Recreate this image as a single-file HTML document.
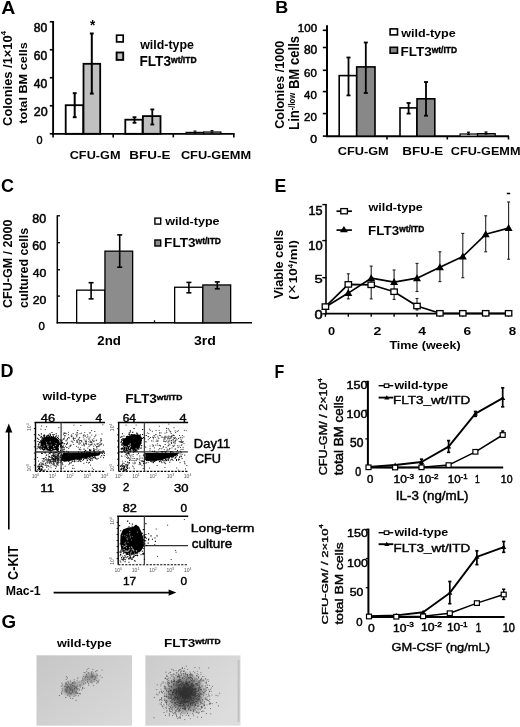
<!DOCTYPE html>
<html><head><meta charset="utf-8"><style>
html,body{margin:0;padding:0;background:#fff;width:520px;height:727px;overflow:hidden;}
svg{display:block;filter:grayscale(1) blur(0.35px);}
text{font-family:"Liberation Sans",sans-serif;}
</style></head><body>
<svg width="520" height="727" viewBox="0 0 520 727">
<line x1="53.1" y1="21" x2="53.1" y2="134.6" stroke="#000" stroke-width="1.9"/>
<line x1="51.8" y1="133.8" x2="234.6" y2="133.8" stroke="#000" stroke-width="1.8"/>
<line x1="49.8" y1="21.75" x2="53.5" y2="21.75" stroke="#000" stroke-width="1.6"/>
<line x1="49.8" y1="49.75" x2="53.5" y2="49.75" stroke="#000" stroke-width="1.6"/>
<line x1="49.8" y1="77.75" x2="53.5" y2="77.75" stroke="#000" stroke-width="1.6"/>
<line x1="49.8" y1="105.75" x2="53.5" y2="105.75" stroke="#000" stroke-width="1.6"/>
<line x1="49.8" y1="133.75" x2="53.5" y2="133.75" stroke="#000" stroke-width="1.6"/>
<line x1="53.1" y1="133.8" x2="53.1" y2="137.4" stroke="#000" stroke-width="1.6"/>
<line x1="113.2" y1="133.8" x2="113.2" y2="137.4" stroke="#000" stroke-width="1.6"/>
<line x1="173.3" y1="133.8" x2="173.3" y2="137.4" stroke="#000" stroke-width="1.6"/>
<line x1="233.8" y1="133.8" x2="233.8" y2="137.4" stroke="#000" stroke-width="1.6"/>
<rect x="65.7" y="105.2" width="17.6" height="28.6" fill="#fff" stroke="#000" stroke-width="1.8"/>
<rect x="83.5" y="63.8" width="16.7" height="70" fill="#c0c0c0" stroke="#000" stroke-width="1.8"/>
<rect x="125.3" y="119.7" width="17.2" height="14.1" fill="#fff" stroke="#000" stroke-width="1.8"/>
<rect x="142.9" y="116.1" width="17.6" height="17.7" fill="#c0c0c0" stroke="#000" stroke-width="1.8"/>
<rect x="186.1" y="132.4" width="17.3" height="1.4" fill="#fff" stroke="#000" stroke-width="1.2"/>
<rect x="203.6" y="132" width="17.3" height="1.8" fill="#c0c0c0" stroke="#000" stroke-width="1.2"/>
<line x1="74.7" y1="93.2" x2="74.7" y2="117.2" stroke="#000" stroke-width="2.0"/>
<line x1="72.8" y1="93.2" x2="76.6" y2="93.2" stroke="#000" stroke-width="2.0"/>
<line x1="72.8" y1="117.2" x2="76.6" y2="117.2" stroke="#000" stroke-width="2.0"/>
<line x1="91.8" y1="33.5" x2="91.8" y2="93.6" stroke="#000" stroke-width="2.0"/>
<line x1="89.9" y1="33.5" x2="93.7" y2="33.5" stroke="#000" stroke-width="2.0"/>
<line x1="89.9" y1="93.6" x2="93.7" y2="93.6" stroke="#000" stroke-width="2.0"/>
<line x1="134.5" y1="117.2" x2="134.5" y2="122.8" stroke="#000" stroke-width="1.8"/>
<line x1="132.6" y1="117.2" x2="136.4" y2="117.2" stroke="#000" stroke-width="1.8"/>
<line x1="132.6" y1="122.8" x2="136.4" y2="122.8" stroke="#000" stroke-width="1.8"/>
<line x1="152.3" y1="109.4" x2="152.3" y2="124.5" stroke="#000" stroke-width="1.8"/>
<line x1="150.4" y1="109.4" x2="154.2" y2="109.4" stroke="#000" stroke-width="1.8"/>
<line x1="150.4" y1="124.5" x2="154.2" y2="124.5" stroke="#000" stroke-width="1.8"/>
<line x1="195" y1="131" x2="195" y2="133" stroke="#000" stroke-width="1"/>
<line x1="193.5" y1="131" x2="196.5" y2="131" stroke="#000" stroke-width="1"/>
<line x1="193.5" y1="133" x2="196.5" y2="133" stroke="#000" stroke-width="1"/>
<line x1="212" y1="130.6" x2="212" y2="133" stroke="#000" stroke-width="1"/>
<line x1="210.5" y1="130.6" x2="213.5" y2="130.6" stroke="#000" stroke-width="1"/>
<line x1="210.5" y1="133" x2="213.5" y2="133" stroke="#000" stroke-width="1"/>
<rect x="116.6" y="35.2" width="6.6" height="6.7" fill="#fff" stroke="#000" stroke-width="1.7"/>
<rect x="116.6" y="52.5" width="6.6" height="7.4" fill="#c0c0c0" stroke="#000" stroke-width="1.9"/>
<line x1="327" y1="25.3" x2="327" y2="137" stroke="#000" stroke-width="2"/>
<line x1="326" y1="136.2" x2="509" y2="136.2" stroke="#000" stroke-width="2"/>
<line x1="322.8" y1="30.3" x2="327.5" y2="30.3" stroke="#000" stroke-width="1.6"/>
<line x1="322.8" y1="47.5" x2="327.5" y2="47.5" stroke="#000" stroke-width="1.6"/>
<line x1="322.8" y1="70.3" x2="327.5" y2="70.3" stroke="#000" stroke-width="1.6"/>
<line x1="322.8" y1="91.6" x2="327.5" y2="91.6" stroke="#000" stroke-width="1.6"/>
<line x1="322.8" y1="113.6" x2="327.5" y2="113.6" stroke="#000" stroke-width="1.6"/>
<line x1="322.8" y1="136.1" x2="327.5" y2="136.1" stroke="#000" stroke-width="1.6"/>
<line x1="387" y1="136.2" x2="387" y2="139.5" stroke="#000" stroke-width="1.6"/>
<line x1="447.3" y1="136.2" x2="447.3" y2="139.5" stroke="#000" stroke-width="1.6"/>
<line x1="508.5" y1="136.2" x2="508.5" y2="139.5" stroke="#000" stroke-width="1.6"/>
<rect x="339.2" y="75.6" width="17.5" height="60.6" fill="#fff" stroke="#000" stroke-width="1.6"/>
<rect x="356.7" y="66.9" width="18.3" height="69.3" fill="#888" stroke="#000" stroke-width="1.6"/>
<rect x="400" y="107.9" width="16.9" height="28.3" fill="#fff" stroke="#000" stroke-width="1.6"/>
<rect x="417" y="98.8" width="17.8" height="37.4" fill="#888" stroke="#000" stroke-width="1.6"/>
<rect x="460.1" y="134" width="17.3" height="2.2" fill="#fff" stroke="#000" stroke-width="1.2"/>
<rect x="477.6" y="133.6" width="17.6" height="2.6" fill="#888" stroke="#000" stroke-width="1.2"/>
<line x1="348.5" y1="57.5" x2="348.5" y2="95.4" stroke="#000" stroke-width="1.8"/>
<line x1="346.5" y1="57.5" x2="350.5" y2="57.5" stroke="#000" stroke-width="1.8"/>
<line x1="346.5" y1="95.4" x2="350.5" y2="95.4" stroke="#000" stroke-width="1.8"/>
<line x1="365.8" y1="42.5" x2="365.8" y2="93" stroke="#000" stroke-width="1.8"/>
<line x1="363.8" y1="42.5" x2="367.8" y2="42.5" stroke="#000" stroke-width="1.8"/>
<line x1="363.8" y1="93" x2="367.8" y2="93" stroke="#000" stroke-width="1.8"/>
<line x1="408.6" y1="103" x2="408.6" y2="113.6" stroke="#000" stroke-width="1.8"/>
<line x1="406.6" y1="103" x2="410.6" y2="103" stroke="#000" stroke-width="1.8"/>
<line x1="406.6" y1="113.6" x2="410.6" y2="113.6" stroke="#000" stroke-width="1.8"/>
<line x1="426" y1="82" x2="426" y2="115.7" stroke="#000" stroke-width="1.8"/>
<line x1="424" y1="82" x2="428" y2="82" stroke="#000" stroke-width="1.8"/>
<line x1="424" y1="115.7" x2="428" y2="115.7" stroke="#000" stroke-width="1.8"/>
<line x1="468.5" y1="132.2" x2="468.5" y2="134.5" stroke="#000" stroke-width="1.2"/>
<line x1="467" y1="132.2" x2="470" y2="132.2" stroke="#000" stroke-width="1.2"/>
<line x1="467" y1="134.5" x2="470" y2="134.5" stroke="#000" stroke-width="1.2"/>
<line x1="486" y1="132" x2="486" y2="134" stroke="#000" stroke-width="1.2"/>
<line x1="484.5" y1="132" x2="487.5" y2="132" stroke="#000" stroke-width="1.2"/>
<line x1="484.5" y1="134" x2="487.5" y2="134" stroke="#000" stroke-width="1.2"/>
<rect x="390.1" y="28.9" width="7.4" height="6" fill="#fff" stroke="#000" stroke-width="1.6"/>
<rect x="390.1" y="47.3" width="7.4" height="5.9" fill="#888" stroke="#000" stroke-width="1.6"/>
<line x1="57.3" y1="215.3" x2="57.3" y2="323.4" stroke="#000" stroke-width="1.5"/>
<line x1="56.6" y1="322.8" x2="252" y2="322.8" stroke="#000" stroke-width="1.5"/>
<line x1="57.3" y1="215.8" x2="60" y2="215.8" stroke="#000" stroke-width="1.3"/>
<line x1="57.3" y1="242.7" x2="60" y2="242.7" stroke="#000" stroke-width="1.3"/>
<line x1="57.3" y1="269.8" x2="60" y2="269.8" stroke="#000" stroke-width="1.3"/>
<line x1="57.3" y1="296.1" x2="60" y2="296.1" stroke="#000" stroke-width="1.3"/>
<line x1="154.5" y1="320.3" x2="154.5" y2="322.8" stroke="#000" stroke-width="1.3"/>
<rect x="76.65" y="290.15" width="28.2" height="32.65" fill="#fff" stroke="#000" stroke-width="1.3"/>
<rect x="104.95" y="251.15" width="27.7" height="71.65" fill="#8c8c8c" stroke="#000" stroke-width="1.3"/>
<rect x="174.65" y="287.25" width="28.1" height="35.55" fill="#fff" stroke="#000" stroke-width="1.3"/>
<rect x="202.85" y="284.95" width="27.8" height="37.85" fill="#8c8c8c" stroke="#000" stroke-width="1.3"/>
<line x1="91.1" y1="282.7" x2="91.1" y2="298.9" stroke="#000" stroke-width="1.6"/>
<line x1="88.6" y1="282.7" x2="93.6" y2="282.7" stroke="#000" stroke-width="1.6"/>
<line x1="88.6" y1="298.9" x2="93.6" y2="298.9" stroke="#000" stroke-width="1.6"/>
<line x1="119.7" y1="234.9" x2="119.7" y2="267.2" stroke="#000" stroke-width="1.6"/>
<line x1="117.2" y1="234.9" x2="122.2" y2="234.9" stroke="#000" stroke-width="1.6"/>
<line x1="117.2" y1="267.2" x2="122.2" y2="267.2" stroke="#000" stroke-width="1.6"/>
<line x1="188.9" y1="282.4" x2="188.9" y2="292.8" stroke="#000" stroke-width="1.6"/>
<line x1="186.4" y1="282.4" x2="191.4" y2="282.4" stroke="#000" stroke-width="1.6"/>
<line x1="186.4" y1="292.8" x2="191.4" y2="292.8" stroke="#000" stroke-width="1.6"/>
<line x1="217.3" y1="281.9" x2="217.3" y2="288.8" stroke="#000" stroke-width="1.6"/>
<line x1="214.8" y1="281.9" x2="219.8" y2="281.9" stroke="#000" stroke-width="1.6"/>
<line x1="214.8" y1="288.8" x2="219.8" y2="288.8" stroke="#000" stroke-width="1.6"/>
<rect x="154.9" y="218.1" width="5.8" height="6" fill="#fff" stroke="#000" stroke-width="1.4"/>
<rect x="154.9" y="240" width="5.8" height="6" fill="#8c8c8c" stroke="#000" stroke-width="1.4"/>
<line x1="326" y1="204.1" x2="326" y2="314.3" stroke="#000" stroke-width="1.6"/>
<line x1="325.2" y1="313.6" x2="512" y2="313.6" stroke="#000" stroke-width="1.6"/>
<line x1="322.3" y1="204.6" x2="326.5" y2="204.6" stroke="#000" stroke-width="1.4"/>
<line x1="322.3" y1="240.6" x2="326.5" y2="240.6" stroke="#000" stroke-width="1.4"/>
<line x1="322.3" y1="277.7" x2="326.5" y2="277.7" stroke="#000" stroke-width="1.4"/>
<line x1="322.3" y1="313.8" x2="326.5" y2="313.8" stroke="#000" stroke-width="1.4"/>
<line x1="325.4" y1="313.6" x2="325.4" y2="316.8" stroke="#000" stroke-width="1.4"/>
<line x1="348.3" y1="313.6" x2="348.3" y2="316.8" stroke="#000" stroke-width="1.4"/>
<line x1="371.2" y1="313.6" x2="371.2" y2="316.8" stroke="#000" stroke-width="1.4"/>
<line x1="394.1" y1="313.6" x2="394.1" y2="316.8" stroke="#000" stroke-width="1.4"/>
<line x1="417" y1="313.6" x2="417" y2="316.8" stroke="#000" stroke-width="1.4"/>
<line x1="439.9" y1="313.6" x2="439.9" y2="316.8" stroke="#000" stroke-width="1.4"/>
<line x1="462.8" y1="313.6" x2="462.8" y2="316.8" stroke="#000" stroke-width="1.4"/>
<line x1="485.7" y1="313.6" x2="485.7" y2="316.8" stroke="#000" stroke-width="1.4"/>
<line x1="508.6" y1="313.6" x2="508.6" y2="316.8" stroke="#000" stroke-width="1.4"/>
<line x1="348.3" y1="273.8" x2="348.3" y2="298.9" stroke="#222" stroke-width="1.1"/>
<line x1="346.8" y1="273.8" x2="349.8" y2="273.8" stroke="#222" stroke-width="1.1"/>
<line x1="346.8" y1="298.9" x2="349.8" y2="298.9" stroke="#222" stroke-width="1.1"/>
<line x1="371.2" y1="266.1" x2="371.2" y2="298.9" stroke="#222" stroke-width="1.1"/>
<line x1="369.7" y1="266.1" x2="372.7" y2="266.1" stroke="#222" stroke-width="1.1"/>
<line x1="369.7" y1="298.9" x2="372.7" y2="298.9" stroke="#222" stroke-width="1.1"/>
<line x1="394.1" y1="270" x2="394.1" y2="299.4" stroke="#222" stroke-width="1.1"/>
<line x1="392.6" y1="270" x2="395.6" y2="270" stroke="#222" stroke-width="1.1"/>
<line x1="392.6" y1="299.4" x2="395.6" y2="299.4" stroke="#222" stroke-width="1.1"/>
<line x1="417" y1="263.4" x2="417" y2="291.5" stroke="#222" stroke-width="1.1"/>
<line x1="415.5" y1="263.4" x2="418.5" y2="263.4" stroke="#222" stroke-width="1.1"/>
<line x1="415.5" y1="291.5" x2="418.5" y2="291.5" stroke="#222" stroke-width="1.1"/>
<line x1="417" y1="298.5" x2="417" y2="310" stroke="#222" stroke-width="1.1"/>
<line x1="415.5" y1="298.5" x2="418.5" y2="298.5" stroke="#222" stroke-width="1.1"/>
<line x1="415.5" y1="310" x2="418.5" y2="310" stroke="#222" stroke-width="1.1"/>
<line x1="439.9" y1="251.8" x2="439.9" y2="281.6" stroke="#222" stroke-width="1.1"/>
<line x1="438.4" y1="251.8" x2="441.4" y2="251.8" stroke="#222" stroke-width="1.1"/>
<line x1="438.4" y1="281.6" x2="441.4" y2="281.6" stroke="#222" stroke-width="1.1"/>
<line x1="462.8" y1="233.4" x2="462.8" y2="277.7" stroke="#222" stroke-width="1.1"/>
<line x1="461.3" y1="233.4" x2="464.3" y2="233.4" stroke="#222" stroke-width="1.1"/>
<line x1="461.3" y1="277.7" x2="464.3" y2="277.7" stroke="#222" stroke-width="1.1"/>
<line x1="485.7" y1="215.8" x2="485.7" y2="251.8" stroke="#222" stroke-width="1.1"/>
<line x1="484.2" y1="215.8" x2="487.2" y2="215.8" stroke="#222" stroke-width="1.1"/>
<line x1="484.2" y1="251.8" x2="487.2" y2="251.8" stroke="#222" stroke-width="1.1"/>
<line x1="508.6" y1="202" x2="508.6" y2="259.2" stroke="#222" stroke-width="1.1"/>
<line x1="507.1" y1="202" x2="510.1" y2="202" stroke="#222" stroke-width="1.1"/>
<line x1="507.1" y1="259.2" x2="510.1" y2="259.2" stroke="#222" stroke-width="1.1"/>
<line x1="506.8" y1="193.5" x2="510.2" y2="193.5" stroke="#000" stroke-width="1.5"/>
<polyline fill="none" stroke="#000" stroke-width="1.7" stroke-linejoin="round" points="325.4,306.6 348.3,284.4 371.2,284.8 394.1,291.7 417,306 439.9,313.3 462.8,313.3 485.7,313.3 508.6,313.3"/>
<polyline fill="none" stroke="#000" stroke-width="1.7" stroke-linejoin="round" points="325.4,307.1 348.3,293.1 371.2,278.2 394.1,282.1 417,278.2 439.9,267.3 462.8,256.5 485.7,234.3 508.6,228.1"/>
<polygon points="321.4,310.1 329.4,310.1 325.4,303.1" fill="#000"/>
<polygon points="344.3,296.1 352.3,296.1 348.3,289.1" fill="#000"/>
<polygon points="367.2,281.2 375.2,281.2 371.2,274.2" fill="#000"/>
<polygon points="390.1,285.1 398.1,285.1 394.1,278.1" fill="#000"/>
<polygon points="413,281.2 421,281.2 417,274.2" fill="#000"/>
<polygon points="435.9,270.3 443.9,270.3 439.9,263.3" fill="#000"/>
<polygon points="458.8,259.5 466.8,259.5 462.8,252.5" fill="#000"/>
<polygon points="481.7,237.3 489.7,237.3 485.7,230.3" fill="#000"/>
<polygon points="504.6,231.1 512.6,231.1 508.6,224.1" fill="#000"/>
<rect x="322.2" y="303.9" width="6.4" height="5.4" fill="#fff" stroke="#000" stroke-width="1.3"/>
<rect x="345.1" y="281.7" width="6.4" height="5.4" fill="#fff" stroke="#000" stroke-width="1.3"/>
<rect x="368" y="282.1" width="6.4" height="5.4" fill="#fff" stroke="#000" stroke-width="1.3"/>
<rect x="390.9" y="289" width="6.4" height="5.4" fill="#fff" stroke="#000" stroke-width="1.3"/>
<rect x="413.8" y="303.3" width="6.4" height="5.4" fill="#fff" stroke="#000" stroke-width="1.3"/>
<rect x="436.7" y="310.6" width="6.4" height="5.4" fill="#fff" stroke="#000" stroke-width="1.3"/>
<rect x="459.6" y="310.6" width="6.4" height="5.4" fill="#fff" stroke="#000" stroke-width="1.3"/>
<rect x="482.5" y="310.6" width="6.4" height="5.4" fill="#fff" stroke="#000" stroke-width="1.3"/>
<rect x="505.4" y="310.6" width="6.4" height="5.4" fill="#fff" stroke="#000" stroke-width="1.3"/>
<line x1="336.5" y1="211.2" x2="351.9" y2="211.2" stroke="#000" stroke-width="1.7"/>
<rect x="340.8" y="208.6" width="6.6" height="5.2" fill="#fff" stroke="#000" stroke-width="1.3"/>
<line x1="336.5" y1="230.1" x2="351.9" y2="230.1" stroke="#000" stroke-width="1.7"/>
<polygon points="339.9,232.3 347.9,232.3 343.9,226" fill="#000"/>
<line x1="367.9" y1="380.8" x2="367.9" y2="468.4" stroke="#000" stroke-width="2"/>
<line x1="367.1" y1="467.6" x2="503.2" y2="467.6" stroke="#000" stroke-width="2"/>
<line x1="365.3" y1="381.5" x2="367.9" y2="381.5" stroke="#000" stroke-width="1.2"/>
<line x1="365.3" y1="410.2" x2="367.9" y2="410.2" stroke="#000" stroke-width="1.2"/>
<line x1="365.3" y1="438.9" x2="367.9" y2="438.9" stroke="#000" stroke-width="1.2"/>
<polyline fill="none" stroke="#000" stroke-width="1.9" stroke-linejoin="round" points="368.5,467 395.1,465 421.5,462 448.6,446.6 475.4,413.7 502.7,398.2"/>
<polyline fill="none" stroke="#000" stroke-width="1.5" stroke-linejoin="round" points="368.5,467.3 395.1,467.5 421.5,467.3 448.6,465.1 475.4,451.8 502.7,435"/>
<line x1="421.5" y1="459.2" x2="421.5" y2="465" stroke="#000" stroke-width="1.7"/>
<line x1="419.9" y1="459.2" x2="423.1" y2="459.2" stroke="#000" stroke-width="1.7"/>
<line x1="419.9" y1="465" x2="423.1" y2="465" stroke="#000" stroke-width="1.7"/>
<line x1="448.6" y1="440.6" x2="448.6" y2="452.3" stroke="#000" stroke-width="1.7"/>
<line x1="447" y1="440.6" x2="450.2" y2="440.6" stroke="#000" stroke-width="1.7"/>
<line x1="447" y1="452.3" x2="450.2" y2="452.3" stroke="#000" stroke-width="1.7"/>
<line x1="475.4" y1="411.5" x2="475.4" y2="416.3" stroke="#000" stroke-width="1.7"/>
<line x1="473.8" y1="411.5" x2="477" y2="411.5" stroke="#000" stroke-width="1.7"/>
<line x1="473.8" y1="416.3" x2="477" y2="416.3" stroke="#000" stroke-width="1.7"/>
<line x1="502.7" y1="387.8" x2="502.7" y2="406.8" stroke="#000" stroke-width="1.7"/>
<line x1="501.1" y1="387.8" x2="504.3" y2="387.8" stroke="#000" stroke-width="1.7"/>
<line x1="501.1" y1="406.8" x2="504.3" y2="406.8" stroke="#000" stroke-width="1.7"/>
<line x1="502.7" y1="431" x2="502.7" y2="437" stroke="#000" stroke-width="1.5"/>
<line x1="501.1" y1="431" x2="504.3" y2="431" stroke="#000" stroke-width="1.5"/>
<line x1="501.1" y1="437" x2="504.3" y2="437" stroke="#000" stroke-width="1.5"/>
<polygon points="365.9,468.9 371.1,468.9 368.5,464.5" fill="#000"/>
<polygon points="392.5,466.9 397.7,466.9 395.1,462.5" fill="#000"/>
<polygon points="418.9,463.9 424.1,463.9 421.5,459.5" fill="#000"/>
<polygon points="446,448.5 451.2,448.5 448.6,444.1" fill="#000"/>
<polygon points="472.8,415.6 478,415.6 475.4,411.2" fill="#000"/>
<polygon points="500.1,400.1 505.3,400.1 502.7,395.7" fill="#000"/>
<rect x="366" y="465" width="5" height="4.6" fill="#fff" stroke="#000" stroke-width="1.2"/>
<rect x="392.6" y="465.2" width="5" height="4.6" fill="#fff" stroke="#000" stroke-width="1.2"/>
<rect x="419" y="465" width="5" height="4.6" fill="#fff" stroke="#000" stroke-width="1.2"/>
<rect x="446.1" y="462.8" width="5" height="4.6" fill="#fff" stroke="#000" stroke-width="1.2"/>
<rect x="472.9" y="449.5" width="5" height="4.6" fill="#fff" stroke="#000" stroke-width="1.2"/>
<rect x="500.2" y="432.7" width="5" height="4.6" fill="#fff" stroke="#000" stroke-width="1.2"/>
<line x1="378.6" y1="385.7" x2="393.3" y2="385.7" stroke="#000" stroke-width="1.4"/>
<rect x="384.3" y="383.9" width="4.5" height="3.6" fill="#fff" stroke="#000" stroke-width="1.1"/>
<line x1="378.6" y1="397.6" x2="393.3" y2="397.6" stroke="#000" stroke-width="1.9"/>
<polygon points="384.2,399.4 389.4,399.4 386.8,395.2" fill="#000"/>
<line x1="368.4" y1="528.6" x2="368.4" y2="617.8" stroke="#000" stroke-width="2"/>
<line x1="367.6" y1="617" x2="504.6" y2="617" stroke="#000" stroke-width="2"/>
<line x1="365.8" y1="529.3" x2="368.4" y2="529.3" stroke="#000" stroke-width="1.2"/>
<line x1="365.8" y1="558.5" x2="368.4" y2="558.5" stroke="#000" stroke-width="1.2"/>
<line x1="365.8" y1="587.7" x2="368.4" y2="587.7" stroke="#000" stroke-width="1.2"/>
<polyline fill="none" stroke="#000" stroke-width="1.9" stroke-linejoin="round" points="369,616.2 396.3,615.4 423.1,612.3 449.8,592.9 476.9,556.9 503.7,547.1"/>
<polyline fill="none" stroke="#000" stroke-width="1.5" stroke-linejoin="round" points="369,616.5 396.3,616.7 423.1,616.3 449.8,613.2 476.9,603.1 503.7,594.5"/>
<line x1="449.8" y1="581.5" x2="449.8" y2="603.7" stroke="#000" stroke-width="1.7"/>
<line x1="448.2" y1="581.5" x2="451.4" y2="581.5" stroke="#000" stroke-width="1.7"/>
<line x1="448.2" y1="603.7" x2="451.4" y2="603.7" stroke="#000" stroke-width="1.7"/>
<line x1="476.9" y1="550.8" x2="476.9" y2="564.6" stroke="#000" stroke-width="1.7"/>
<line x1="475.3" y1="550.8" x2="478.5" y2="550.8" stroke="#000" stroke-width="1.7"/>
<line x1="475.3" y1="564.6" x2="478.5" y2="564.6" stroke="#000" stroke-width="1.7"/>
<line x1="503.7" y1="541.5" x2="503.7" y2="552.3" stroke="#000" stroke-width="1.7"/>
<line x1="502.1" y1="541.5" x2="505.3" y2="541.5" stroke="#000" stroke-width="1.7"/>
<line x1="502.1" y1="552.3" x2="505.3" y2="552.3" stroke="#000" stroke-width="1.7"/>
<line x1="503.7" y1="589.2" x2="503.7" y2="599.4" stroke="#000" stroke-width="1.5"/>
<line x1="502.1" y1="589.2" x2="505.3" y2="589.2" stroke="#000" stroke-width="1.5"/>
<line x1="502.1" y1="599.4" x2="505.3" y2="599.4" stroke="#000" stroke-width="1.5"/>
<polygon points="366.4,618.1 371.6,618.1 369,613.7" fill="#000"/>
<polygon points="393.7,617.3 398.9,617.3 396.3,612.9" fill="#000"/>
<polygon points="420.5,614.2 425.7,614.2 423.1,609.8" fill="#000"/>
<polygon points="447.2,594.8 452.4,594.8 449.8,590.4" fill="#000"/>
<polygon points="474.3,558.8 479.5,558.8 476.9,554.4" fill="#000"/>
<polygon points="501.1,549 506.3,549 503.7,544.6" fill="#000"/>
<rect x="366.5" y="614.2" width="5" height="4.6" fill="#fff" stroke="#000" stroke-width="1.2"/>
<rect x="393.8" y="614.4" width="5" height="4.6" fill="#fff" stroke="#000" stroke-width="1.2"/>
<rect x="420.6" y="614" width="5" height="4.6" fill="#fff" stroke="#000" stroke-width="1.2"/>
<rect x="447.3" y="610.9" width="5" height="4.6" fill="#fff" stroke="#000" stroke-width="1.2"/>
<rect x="474.4" y="600.8" width="5" height="4.6" fill="#fff" stroke="#000" stroke-width="1.2"/>
<rect x="501.2" y="592.2" width="5" height="4.6" fill="#fff" stroke="#000" stroke-width="1.2"/>
<line x1="378.6" y1="532.7" x2="393.3" y2="532.7" stroke="#000" stroke-width="1.4"/>
<rect x="384.3" y="530.9" width="4.5" height="3.6" fill="#fff" stroke="#000" stroke-width="1.1"/>
<line x1="378.6" y1="544.2" x2="393.3" y2="544.2" stroke="#000" stroke-width="1.9"/>
<polygon points="384.2,546 389.4,546 386.8,541.8" fill="#000"/>
<line x1="34.5" y1="422.4" x2="105" y2="422.4" stroke="#000" stroke-width="1.5"/>
<line x1="35.5" y1="422.4" x2="35.5" y2="471.4" stroke="#000" stroke-width="1.4"/>
<line x1="33.9" y1="428.52" x2="35.5" y2="428.52" stroke="#000" stroke-width="0.9"/>
<line x1="33.9" y1="434.65" x2="35.5" y2="434.65" stroke="#000" stroke-width="0.9"/>
<line x1="33.9" y1="440.77" x2="35.5" y2="440.77" stroke="#000" stroke-width="0.9"/>
<line x1="33.9" y1="446.9" x2="35.5" y2="446.9" stroke="#000" stroke-width="0.9"/>
<line x1="33.9" y1="453.02" x2="35.5" y2="453.02" stroke="#000" stroke-width="0.9"/>
<line x1="33.9" y1="459.15" x2="35.5" y2="459.15" stroke="#000" stroke-width="0.9"/>
<line x1="33.9" y1="465.27" x2="35.5" y2="465.27" stroke="#000" stroke-width="0.9"/>
<line x1="35.5" y1="471.4" x2="104.5" y2="471.4" stroke="#000" stroke-width="1.1" stroke-dasharray="2.2,1.3"/>
<line x1="61.1" y1="422.4" x2="61.1" y2="471.4" stroke="#444" stroke-width="1.3"/>
<line x1="35.5" y1="452" x2="104.8" y2="452" stroke="#333" stroke-width="1.3"/>
<text x="35.5" y="478.2" font-size="5" text-anchor="middle" fill="#555">10<tspan font-size="3.5" dy="-2">0</tspan></text>
<text x="52.8" y="478.2" font-size="5" text-anchor="middle" fill="#555">10<tspan font-size="3.5" dy="-2">1</tspan></text>
<text x="70.0" y="478.2" font-size="5" text-anchor="middle" fill="#555">10<tspan font-size="3.5" dy="-2">2</tspan></text>
<text x="87.2" y="478.2" font-size="5" text-anchor="middle" fill="#555">10<tspan font-size="3.5" dy="-2">3</tspan></text>
<text x="104.5" y="478.2" font-size="5" text-anchor="middle" fill="#555">10<tspan font-size="3.5" dy="-2">4</tspan></text>
<text x="31.2" y="423.4" font-size="5" fill="#555" transform="rotate(-90 31.2 423.4)" text-anchor="end">10<tspan font-size="3.5" dy="-2">4</tspan></text>
<text x="31.2" y="471.4" font-size="5" fill="#555" transform="rotate(-90 31.2 471.4)" text-anchor="start">10<tspan font-size="3.5" dy="-2">0</tspan></text>
<path d="M58.4 427.6h0.9M80.4 425.5h0.9M72.7 433.6h0.9M40.4 437.5h0.9M39.0 435.4h0.9M41.2 426.0h0.9M65.2 446.2h0.9M44.9 429.6h0.9M78.9 449.6h0.9M75.5 434.4h0.9M102.4 424.8h0.9M94.4 431.5h0.9M46.2 426.7h0.9M57.3 445.9h0.9M48.7 439.5h0.9M79.6 433.7h0.9M73.5 425.2h0.9M40.5 429.2h0.9" stroke="#000" stroke-width="0.9" fill="none"/>
<path d="M82.4 460.5h0.9M57.7 463.2h0.9M67.1 458.2h0.9M90.1 465.2h0.9M53.0 463.1h0.9M72.0 468.3h0.9M85.7 458.0h0.9M102.7 455.1h0.9M64.7 466.2h0.9M46.8 461.6h0.9M39.1 464.7h0.9M88.1 463.0h0.9M95.6 458.5h0.9M83.4 463.4h0.9M75.6 461.0h0.9M93.2 469.5h0.9M68.5 464.6h0.9M40.6 465.3h0.9M80.2 470.4h0.9M92.0 458.0h0.9M62.5 464.7h0.9M38.0 461.1h0.9M47.8 455.0h0.9M40.5 466.4h0.9M45.2 457.3h0.9M62.9 468.2h0.9M41.9 460.9h0.9M73.6 468.5h0.9M91.8 468.1h0.9M55.3 460.3h0.9M60.7 468.5h0.9M101.1 455.6h0.9M48.4 457.1h0.9M52.3 461.5h0.9M76.3 457.6h0.9" stroke="#000" stroke-width="0.9" fill="none"/>
<path d="M63.2 439.5h1.0M77.4 442.2h1.0M100.2 444.4h1.0M83.1 443.1h1.0M89.4 433.0h1.0M98.1 446.0h1.0M97.1 446.4h1.0M78.3 439.2h1.0M67.0 443.4h1.0M65.4 433.2h1.0M71.1 434.9h1.0M76.3 432.9h1.0M63.0 434.7h1.0M67.0 438.5h1.0M64.0 447.7h1.0M86.9 434.7h1.0M72.8 438.3h1.0M77.2 434.2h1.0M96.1 449.9h1.0M81.2 440.7h1.0M66.3 433.8h1.0M76.4 436.8h1.0M95.3 434.9h1.0M63.9 449.1h1.0M83.6 434.6h1.0M84.2 432.5h1.0M83.6 449.6h1.0M96.7 444.5h1.0M73.2 438.6h1.0M69.5 445.9h1.0M83.8 446.0h1.0M75.9 436.0h1.0M94.6 449.7h1.0M96.3 446.5h1.0M94.9 445.3h1.0M71.8 441.3h1.0M76.9 432.5h1.0M64.1 437.0h1.0M73.1 444.5h1.0M100.3 440.1h1.0M99.5 449.8h1.0M100.2 438.6h1.0M71.6 436.1h1.0M70.7 435.7h1.0M87.3 448.2h1.0M95.8 440.6h1.0M88.5 446.4h1.0M66.3 443.9h1.0M98.5 446.1h1.0M92.3 440.6h1.0M70.0 446.2h1.0M76.0 446.4h1.0M100.9 439.1h1.0M78.7 449.0h1.0M91.3 435.1h1.0M68.0 434.7h1.0M98.3 446.5h1.0M68.7 446.9h1.0M101.2 443.8h1.0M76.7 441.9h1.0M68.1 432.3h1.0M100.9 443.7h1.0M83.5 448.8h1.0M79.9 447.7h1.0M95.2 435.8h1.0M72.8 437.3h1.0M72.4 442.6h1.0M73.1 439.5h1.0M68.1 448.4h1.0M76.8 440.2h1.0" stroke="#444" stroke-width="1.0" fill="none"/>
<path d="M71.0 436.7h1.0M70.3 445.3h1.0M76.1 440.9h1.0M84.5 440.9h1.0M81.3 441.9h1.0M100.3 441.2h1.0M90.2 445.0h1.0M84.4 436.0h1.0M81.6 445.3h1.0M72.8 438.6h1.0M94.1 444.2h1.0M86.1 444.2h1.0M87.3 436.3h1.0M73.5 438.4h1.0M93.4 438.7h1.0M78.8 437.9h1.0M73.7 440.5h1.0M76.6 442.5h1.0M67.1 442.3h1.0M80.9 433.2h1.0M91.8 439.9h1.0M68.2 437.5h1.0M88.3 439.2h1.0M92.2 444.0h1.0M91.3 442.3h1.0M96.7 443.6h1.0M89.6 432.7h1.0M93.2 446.2h1.0M83.6 439.1h1.0M101.5 434.0h1.0M89.8 450.7h1.0M78.6 443.8h1.0M101.1 440.5h1.0M90.5 444.6h1.0M78.8 440.6h1.0M88.3 444.3h1.0M85.7 440.2h1.0M77.9 439.6h1.0M93.1 441.4h1.0M79.2 437.6h1.0M91.1 430.6h1.0M91.0 442.9h1.0M99.5 442.7h1.0M85.5 443.1h1.0M70.4 445.1h1.0M88.6 438.2h1.0M96.6 448.2h1.0M74.8 438.3h1.0M88.3 441.7h1.0M82.8 437.1h1.0M103.0 445.1h1.0M76.4 435.6h1.0M99.6 445.0h1.0M100.6 444.2h1.0M79.0 442.0h1.0M68.7 438.0h1.0M85.5 443.1h1.0M80.2 440.5h1.0M89.7 442.5h1.0M91.1 441.8h1.0M83.4 444.2h1.0M86.4 437.7h1.0M81.0 441.0h1.0M85.1 441.6h1.0M86.0 441.7h1.0M84.9 436.0h1.0M89.4 445.2h1.0M89.5 440.2h1.0M89.6 437.1h1.0M70.8 441.2h1.0M78.6 444.0h1.0M77.3 430.5h1.0M77.7 447.3h1.0M82.9 435.5h1.0M79.9 443.1h1.0M90.0 441.7h1.0M97.9 443.8h1.0M85.8 443.4h1.0M99.2 444.9h1.0M94.2 436.7h1.0M84.8 443.9h1.0M83.6 445.3h1.0M90.8 444.6h1.0M84.3 451.2h1.0M95.9 440.1h1.0M86.7 451.4h1.0M83.3 444.5h1.0M93.8 441.0h1.0M76.7 441.8h1.0" stroke="#333" stroke-width="1.0" fill="none"/>
<path d="M40.1 470.7h1.0M41.3 469.0h1.0M41.6 469.8h1.0M39.6 469.1h1.0M38.3 470.0h1.0M39.0 466.8h1.0M37.7 466.0h1.0M37.0 469.9h1.0M40.7 468.9h1.0M38.3 466.9h1.0M44.5 469.8h1.0M42.3 467.7h1.0M38.4 466.3h1.0M41.3 470.4h1.0M40.9 466.4h1.0M37.1 466.9h1.0M39.1 469.4h1.0M40.9 470.1h1.0M43.5 470.7h1.0M38.8 469.0h1.0M40.5 466.6h1.0M38.4 468.5h1.0M38.8 467.9h1.0M41.1 469.5h1.0M38.7 468.0h1.0M38.5 464.9h1.0M39.4 466.9h1.0M38.2 468.5h1.0M40.4 469.9h1.0M38.9 467.7h1.0M38.6 468.9h1.0M41.2 469.4h1.0" stroke="#000" stroke-width="1.0" fill="none"/>
<path d="M41.7 458.6h1.0M43.8 461.0h1.0M39.3 463.5h1.0M43.1 464.4h1.0M49.1 462.3h1.0M59.9 462.7h1.0M52.6 464.5h1.0M52.7 454.5h1.0M41.5 465.0h1.0M47.9 469.1h1.0M50.6 467.8h1.0M49.1 463.4h1.0M49.1 459.7h1.0M53.1 459.9h1.0M44.7 464.1h1.0M53.0 464.1h1.0M41.2 465.0h1.0M49.5 466.8h1.0M56.0 464.1h1.0M47.6 462.3h1.0M54.5 461.2h1.0M50.0 462.1h1.0M41.8 466.9h1.0M54.0 464.0h1.0M41.9 467.2h1.0M45.7 465.2h1.0M55.1 468.5h1.0M46.0 467.1h1.0M42.1 463.8h1.0M54.2 459.1h1.0M37.0 457.5h1.0M53.1 462.2h1.0M45.6 462.7h1.0M45.3 459.6h1.0M46.1 458.2h1.0M45.6 465.2h1.0M48.8 463.1h1.0M40.6 464.6h1.0M43.1 470.3h1.0M50.6 463.5h1.0M43.2 461.2h1.0M40.4 462.6h1.0M47.8 466.1h1.0M41.8 464.1h1.0M62.8 456.5h1.0M42.9 464.7h1.0M46.9 465.6h1.0M44.6 465.5h1.0M46.3 467.1h1.0M46.0 459.9h1.0M39.7 466.5h1.0M42.1 466.5h1.0M50.5 465.2h1.0" stroke="#444" stroke-width="1.0" fill="none"/>
<path d="M55.0 458.7h1.0M43.5 458.9h1.0M54.7 457.4h1.0M51.4 461.2h1.0M46.7 460.9h1.0M63.2 457.3h1.0M52.9 458.5h1.0M61.2 459.9h1.0M57.4 456.9h1.0M51.9 459.0h1.0M41.3 463.3h1.0M57.4 453.8h1.0M56.5 458.6h1.0M54.7 460.1h1.0M43.0 458.4h1.0M61.0 457.3h1.0M45.9 454.9h1.0M44.7 460.0h1.0M62.2 460.3h1.0M53.5 465.7h1.0M48.9 457.0h1.0M55.2 460.6h1.0M45.9 455.5h1.0M53.7 459.7h1.0M44.2 458.4h1.0M48.7 460.4h1.0M51.3 458.7h1.0M49.9 462.2h1.0M60.3 457.9h1.0M57.1 456.7h1.0M52.4 461.2h1.0M61.1 457.9h1.0M51.6 459.6h1.0M43.0 459.0h1.0M47.9 460.1h1.0M45.2 453.1h1.0M52.2 459.8h1.0M48.7 461.7h1.0M50.4 457.2h1.0M54.9 454.3h1.0M47.9 458.9h1.0M57.1 458.5h1.0M53.9 457.0h1.0M53.8 464.0h1.0M47.9 466.1h1.0M48.1 459.1h1.0M53.0 462.1h1.0M44.6 452.7h1.0M55.6 461.4h1.0M55.7 466.9h1.0M53.2 459.8h1.0M57.6 460.1h1.0M62.0 455.3h1.0M49.7 448.7h1.0M56.9 457.9h1.0M57.5 465.5h1.0M52.0 458.2h1.0M49.0 456.5h1.0M48.2 460.9h1.0M52.2 459.2h1.0M51.0 461.7h1.0M55.0 458.6h1.0M56.0 458.5h1.0M45.1 463.4h1.0M54.8 456.1h1.0M58.5 460.0h1.0M42.6 463.8h1.0M54.0 461.7h1.0M53.2 458.6h1.0M42.7 461.9h1.0" stroke="#333" stroke-width="1.0" fill="none"/>
<path d="M50.2 442.4h1.1M52.3 443.8h1.1M54.4 442.0h1.1M49.8 434.9h1.1M47.2 446.2h1.1M58.7 442.0h1.1M49.2 449.8h1.1M47.9 446.4h1.1M60.9 443.7h1.1M58.0 440.7h1.1M51.3 443.2h1.1M50.7 448.0h1.1M65.5 440.8h1.1M46.3 445.5h1.1M43.1 445.5h1.1M53.7 442.4h1.1M53.5 437.3h1.1M54.9 437.3h1.1M45.5 441.3h1.1M47.4 446.9h1.1M50.5 441.9h1.1M53.5 449.8h1.1M50.0 445.0h1.1M58.1 444.6h1.1M41.7 453.5h1.1M64.4 435.6h1.1M49.7 445.2h1.1M56.3 446.2h1.1M48.2 439.3h1.1M50.7 447.6h1.1M42.9 439.4h1.1M49.8 435.8h1.1M48.3 441.8h1.1M52.9 440.7h1.1M44.3 441.9h1.1M49.7 440.8h1.1M50.1 446.5h1.1M57.7 450.3h1.1M44.9 441.8h1.1M45.3 443.4h1.1M53.4 438.1h1.1M53.0 443.4h1.1M38.1 444.7h1.1M57.8 436.0h1.1M55.2 444.3h1.1M53.1 445.3h1.1M58.5 442.6h1.1M55.7 441.9h1.1M54.7 440.2h1.1M49.3 450.4h1.1M52.9 442.9h1.1M42.6 440.3h1.1M51.3 447.3h1.1M52.8 445.6h1.1M49.7 448.9h1.1M47.5 441.3h1.1M55.8 443.8h1.1M48.2 441.2h1.1M48.3 446.0h1.1M52.3 438.7h1.1M52.8 444.2h1.1M43.5 446.6h1.1M48.2 442.2h1.1M55.2 448.8h1.1M45.5 445.3h1.1M44.3 452.8h1.1M46.8 448.3h1.1M45.8 446.7h1.1M64.4 433.3h1.1M47.2 445.5h1.1M49.4 440.8h1.1M64.0 443.8h1.1M39.3 446.9h1.1M38.8 448.1h1.1M46.2 444.1h1.1M58.2 444.0h1.1M41.0 436.7h1.1M57.7 446.5h1.1M44.7 446.9h1.1M53.2 446.1h1.1M55.9 446.4h1.1M55.7 433.7h1.1M51.1 445.5h1.1M66.6 439.7h1.1M47.9 443.6h1.1M55.8 441.7h1.1M57.5 440.3h1.1M51.7 441.4h1.1M51.0 440.7h1.1M39.6 447.9h1.1M52.0 441.3h1.1M51.3 447.5h1.1M43.6 443.1h1.1M53.5 445.6h1.1M47.8 435.1h1.1M58.1 444.8h1.1M50.1 442.4h1.1M51.7 441.8h1.1M43.3 440.5h1.1M46.1 441.1h1.1M42.5 446.0h1.1M41.5 446.1h1.1M43.4 444.9h1.1M58.9 444.3h1.1M45.2 443.7h1.1M51.0 436.6h1.1M46.1 444.2h1.1M47.0 443.8h1.1M54.8 446.6h1.1M55.9 445.9h1.1M48.1 443.4h1.1M48.2 442.2h1.1M48.8 436.6h1.1M47.8 443.4h1.1M43.7 443.4h1.1M53.4 442.8h1.1M63.5 433.1h1.1M48.7 436.2h1.1M56.4 454.1h1.1M53.4 442.3h1.1M53.6 434.5h1.1M55.5 445.0h1.1M50.1 441.1h1.1M54.1 441.6h1.1M51.5 441.5h1.1M51.3 446.5h1.1M44.3 443.4h1.1M54.0 444.1h1.1M58.1 451.5h1.1M44.1 435.8h1.1M55.6 449.6h1.1M56.0 446.8h1.1M46.0 440.6h1.1M55.8 439.9h1.1M38.2 439.5h1.1M66.2 451.2h1.1M45.5 440.6h1.1M51.5 440.5h1.1M58.5 443.2h1.1M42.9 448.7h1.1M46.2 444.4h1.1M49.9 442.2h1.1M52.1 440.7h1.1M38.0 434.7h1.1M41.8 440.5h1.1M49.9 443.7h1.1M53.6 444.0h1.1M44.8 440.7h1.1M53.2 445.6h1.1M49.2 442.8h1.1M56.1 443.6h1.1M54.8 445.8h1.1M51.4 448.7h1.1M46.3 442.1h1.1M44.7 440.3h1.1M60.1 450.5h1.1M50.1 445.8h1.1M57.6 446.7h1.1M57.8 438.4h1.1M45.8 445.3h1.1M59.3 443.9h1.1M44.4 442.1h1.1M45.7 440.1h1.1M59.8 441.0h1.1M50.1 452.1h1.1M57.7 444.8h1.1M46.0 445.1h1.1M60.5 446.0h1.1M58.2 443.9h1.1M53.4 442.7h1.1M52.8 448.7h1.1M40.7 443.2h1.1M51.6 441.2h1.1M48.0 446.6h1.1M63.0 446.0h1.1M52.1 437.3h1.1M62.5 443.8h1.1M49.8 439.0h1.1M49.6 439.1h1.1M50.5 445.4h1.1M50.2 444.6h1.1M44.5 449.2h1.1M45.8 436.2h1.1M48.8 440.4h1.1M43.4 442.1h1.1M51.9 438.8h1.1M49.1 449.2h1.1M54.4 442.9h1.1M50.8 443.0h1.1M49.7 446.4h1.1M49.4 433.9h1.1M49.9 439.9h1.1M54.2 441.1h1.1M51.0 452.2h1.1M43.2 439.0h1.1M40.8 433.9h1.1M37.8 445.0h1.1M45.9 436.0h1.1M40.4 446.0h1.1M45.0 442.0h1.1M52.1 448.9h1.1M62.6 447.6h1.1M50.9 444.2h1.1M61.7 449.2h1.1M48.0 445.3h1.1M51.9 443.7h1.1M46.7 438.2h1.1M46.5 437.3h1.1M58.0 445.6h1.1M42.2 449.1h1.1M55.8 435.9h1.1M62.0 446.7h1.1M63.4 438.6h1.1M53.4 445.2h1.1M51.3 444.2h1.1M56.8 437.5h1.1M41.9 437.9h1.1M46.4 441.1h1.1M52.4 444.6h1.1M50.2 440.8h1.1M47.1 447.3h1.1M55.0 443.9h1.1M47.9 449.7h1.1M46.1 446.1h1.1M57.5 442.4h1.1M55.4 439.0h1.1M56.6 444.3h1.1M39.7 446.2h1.1M44.2 448.6h1.1M45.6 442.8h1.1M51.8 442.2h1.1M51.7 441.3h1.1M54.4 443.5h1.1M51.4 432.5h1.1M57.5 443.6h1.1M38.4 443.9h1.1M53.0 447.8h1.1M43.0 449.7h1.1M49.0 453.1h1.1M49.0 446.2h1.1M47.6 439.0h1.1M57.1 447.1h1.1M60.0 446.9h1.1M46.3 436.9h1.1M45.8 440.8h1.1M44.7 445.8h1.1M52.1 442.4h1.1M51.1 442.9h1.1M51.4 446.5h1.1M56.2 440.8h1.1M40.2 449.2h1.1M50.7 447.9h1.1M39.3 442.2h1.1M50.2 437.7h1.1M46.6 446.4h1.1M57.0 449.9h1.1M44.4 437.9h1.1M53.4 447.3h1.1M51.3 438.3h1.1M55.1 446.7h1.1M53.6 441.6h1.1M52.0 446.7h1.1M46.4 436.1h1.1M52.1 445.4h1.1M50.1 447.1h1.1M46.2 443.2h1.1M48.0 445.8h1.1M60.4 442.5h1.1M63.4 449.6h1.1M55.1 445.8h1.1M61.5 442.8h1.1M49.3 439.2h1.1M53.1 448.9h1.1M53.5 445.2h1.1M48.7 444.2h1.1M40.7 447.7h1.1M47.3 439.1h1.1M45.1 440.2h1.1M55.6 447.7h1.1M41.2 447.2h1.1M55.8 441.2h1.1M40.3 440.5h1.1M45.9 444.9h1.1M47.7 435.4h1.1M51.5 437.4h1.1M55.9 438.7h1.1M45.5 440.1h1.1M46.5 448.7h1.1M55.5 445.9h1.1M52.1 437.3h1.1M46.6 441.3h1.1M43.6 445.5h1.1M45.2 440.7h1.1M43.2 435.3h1.1M53.9 448.8h1.1M51.1 439.6h1.1M57.9 444.7h1.1M56.0 449.4h1.1M57.3 441.7h1.1M56.8 446.6h1.1M40.0 441.9h1.1M40.7 443.1h1.1M53.8 439.2h1.1M36.6 448.7h1.1M52.4 449.4h1.1M41.4 447.7h1.1M63.5 451.5h1.1M48.6 444.6h1.1M49.0 447.5h1.1M56.7 443.8h1.1M41.2 446.5h1.1M46.9 446.0h1.1M51.7 450.0h1.1M57.4 441.7h1.1M52.3 450.6h1.1M46.5 445.2h1.1M57.7 448.5h1.1M53.4 438.2h1.1M41.8 444.5h1.1M52.5 453.7h1.1M44.4 448.1h1.1M55.0 436.8h1.1M44.7 444.2h1.1M46.8 442.9h1.1M53.1 440.3h1.1M53.0 441.0h1.1M46.5 445.6h1.1M46.3 444.6h1.1M60.4 443.6h1.1M49.1 446.4h1.1M47.6 447.8h1.1M41.7 446.0h1.1M46.7 440.3h1.1M61.5 440.1h1.1M61.4 446.1h1.1M59.4 439.6h1.1M57.8 449.3h1.1M49.2 443.0h1.1M66.0 444.2h1.1M47.3 441.0h1.1M52.9 444.8h1.1M51.2 450.4h1.1M47.9 445.4h1.1M59.5 439.5h1.1M56.8 450.8h1.1M41.2 439.1h1.1M43.3 436.1h1.1M52.9 436.1h1.1M53.2 449.3h1.1M39.5 442.2h1.1M37.5 446.6h1.1M45.2 442.4h1.1M50.4 445.7h1.1M47.7 443.6h1.1M46.4 444.0h1.1M42.4 443.8h1.1M37.4 441.5h1.1M62.4 443.8h1.1M41.8 444.5h1.1M43.7 436.9h1.1M45.2 446.4h1.1M52.5 443.1h1.1M44.0 439.2h1.1M58.8 444.5h1.1M43.8 435.1h1.1M41.1 453.4h1.1M42.5 443.2h1.1M51.4 442.9h1.1M48.2 438.0h1.1M43.2 450.3h1.1M45.1 446.9h1.1M39.0 442.4h1.1M51.7 447.6h1.1M42.7 445.9h1.1M52.5 440.5h1.1M53.1 439.9h1.1M44.8 443.4h1.1M43.5 437.6h1.1M47.2 446.6h1.1M47.4 448.6h1.1M42.5 438.3h1.1M60.1 445.1h1.1M56.1 440.2h1.1M55.2 444.5h1.1M54.2 443.6h1.1M57.8 440.9h1.1M43.7 437.6h1.1M57.5 440.5h1.1M43.2 439.7h1.1M47.1 438.4h1.1M48.1 441.0h1.1M46.4 439.7h1.1M50.2 441.7h1.1M50.7 444.5h1.1M52.2 434.7h1.1M46.5 440.3h1.1M55.0 437.2h1.1M45.4 442.3h1.1M47.8 447.5h1.1M47.1 447.4h1.1M40.5 436.3h1.1M57.9 445.2h1.1M53.2 444.0h1.1M53.1 438.6h1.1M56.2 441.4h1.1M56.4 443.9h1.1M37.2 438.4h1.1M57.3 443.0h1.1M47.4 444.5h1.1M47.2 441.3h1.1M50.7 444.1h1.1M59.9 443.7h1.1M62.2 450.7h1.1M61.2 447.7h1.1M50.8 444.0h1.1M49.1 440.6h1.1M49.6 440.9h1.1M60.7 445.6h1.1M47.1 435.8h1.1M49.7 441.8h1.1M42.9 439.0h1.1M49.6 453.8h1.1M49.8 442.9h1.1M59.4 444.0h1.1M51.1 442.0h1.1M46.1 449.5h1.1M56.5 450.4h1.1M47.7 443.6h1.1M44.3 447.4h1.1M40.9 445.8h1.1M57.1 449.1h1.1M43.9 447.9h1.1M45.4 440.5h1.1M41.4 448.1h1.1M60.7 441.1h1.1M45.1 442.1h1.1M66.3 447.5h1.1M46.5 436.3h1.1M45.6 448.2h1.1M62.1 442.4h1.1M45.5 441.5h1.1M37.7 447.1h1.1" stroke="#000" stroke-width="1.1" fill="none"/>
<polygon points="41,441 44,437.5 49,436.3 54,437 58.5,439.5 59.5,444 58,449.5 50,451 42,449.5 40.5,445" fill="#000"/>
<polygon points="63,452.8 100.5,452.8 99.5,455.3 88,457.3 75,459.8 64,461.8 61,460" fill="#000"/>
<path d="M66.3 460.9h1.0M57.6 455.2h1.0M83.5 454.0h1.0M90.1 455.5h1.0M65.0 459.8h1.0M90.4 450.1h1.0M103.8 455.5h1.0M89.3 450.3h1.0M70.6 456.5h1.0M93.5 451.0h1.0M68.0 452.0h1.0M77.0 457.8h1.0M58.0 457.0h1.0M87.0 460.3h1.0M88.5 454.8h1.0M64.5 455.4h1.0M71.4 457.8h1.0M79.8 461.2h1.0M83.4 453.1h1.0M100.2 457.1h1.0M81.1 454.4h1.0M55.5 456.1h1.0M91.6 453.1h1.0M63.0 458.8h1.0M83.3 457.9h1.0M88.9 459.6h1.0M69.4 460.3h1.0M67.4 459.7h1.0M82.4 456.9h1.0M92.5 455.2h1.0M94.6 457.5h1.0M81.6 454.7h1.0M70.1 456.0h1.0M77.4 456.7h1.0M89.7 453.1h1.0M70.7 456.5h1.0M82.2 453.4h1.0M100.7 452.8h1.0M93.3 448.6h1.0M80.0 457.3h1.0M82.6 457.9h1.0M83.7 456.6h1.0M55.3 457.0h1.0M49.9 461.3h1.0M83.9 455.6h1.0M69.2 455.9h1.0M79.6 460.2h1.0M58.9 453.2h1.0M73.5 454.7h1.0M72.8 457.7h1.0M80.7 457.2h1.0M79.8 459.1h1.0M102.6 450.7h1.0M82.0 455.6h1.0M84.2 451.8h1.0M56.6 452.3h1.0M86.8 456.4h1.0M80.3 449.8h1.0M75.0 454.9h1.0M61.5 455.8h1.0M89.2 457.1h1.0M79.9 458.0h1.0M72.2 457.5h1.0M80.7 458.0h1.0M79.1 456.2h1.0M78.1 454.9h1.0M86.2 462.3h1.0M97.7 450.3h1.0M89.2 457.9h1.0M89.6 452.2h1.0M68.8 458.4h1.0M86.2 453.0h1.0M74.9 455.9h1.0M80.9 457.4h1.0M75.9 453.4h1.0M96.5 459.3h1.0M78.9 459.5h1.0M85.9 457.8h1.0M86.0 453.7h1.0M87.7 458.6h1.0M69.0 463.1h1.0M75.5 455.3h1.0M69.5 457.9h1.0M79.8 458.4h1.0M54.5 465.6h1.0M88.9 456.9h1.0M83.5 455.6h1.0M78.2 454.4h1.0M82.3 456.2h1.0M83.9 453.7h1.0M80.5 456.6h1.0M87.5 452.8h1.0M85.7 458.7h1.0M87.6 454.7h1.0M73.6 456.5h1.0M89.9 459.9h1.0M77.8 454.9h1.0M84.9 456.6h1.0M68.0 455.6h1.0M78.9 458.5h1.0M64.3 455.2h1.0M86.1 452.4h1.0M81.5 457.3h1.0M78.3 453.8h1.0M79.1 455.7h1.0M84.1 453.7h1.0M93.7 450.4h1.0M77.7 456.8h1.0M92.3 453.6h1.0M86.9 454.2h1.0M90.0 460.4h1.0M74.9 458.3h1.0M68.3 460.4h1.0M95.7 455.0h1.0M65.4 459.1h1.0M95.2 458.0h1.0M90.0 450.3h1.0M71.6 461.3h1.0M64.5 461.2h1.0M94.4 454.1h1.0M64.1 457.8h1.0M77.4 456.6h1.0M89.0 455.2h1.0M82.6 457.4h1.0M80.4 461.6h1.0M85.7 456.2h1.0M77.1 455.0h1.0M97.4 455.2h1.0M65.9 456.3h1.0M78.1 455.4h1.0M93.7 451.9h1.0M86.4 456.3h1.0M64.8 458.2h1.0M78.9 458.0h1.0M74.3 457.9h1.0M58.2 455.6h1.0M90.4 458.4h1.0M79.7 454.8h1.0M93.4 449.3h1.0M69.8 459.4h1.0M88.2 452.8h1.0M56.0 463.0h1.0M81.7 453.8h1.0M81.0 458.9h1.0M46.8 463.0h1.0M89.0 449.7h1.0M89.5 450.5h1.0M94.8 456.1h1.0M80.4 459.4h1.0M71.5 455.4h1.0M75.2 456.8h1.0M66.1 459.3h1.0M87.0 456.0h1.0M101.9 453.4h1.0M96.7 453.3h1.0M89.2 450.1h1.0M82.5 455.8h1.0M73.4 455.4h1.0M75.3 454.9h1.0M51.5 457.7h1.0M72.7 455.8h1.0M66.3 457.5h1.0M90.1 454.8h1.0M74.0 460.9h1.0M92.9 457.8h1.0M94.9 454.1h1.0M78.6 459.8h1.0M72.8 456.9h1.0M85.0 457.0h1.0M76.7 459.6h1.0M77.9 458.8h1.0M94.0 456.9h1.0M89.2 452.3h1.0M62.9 456.5h1.0M86.6 460.1h1.0M64.3 458.9h1.0M68.7 455.6h1.0M76.6 458.8h1.0M83.1 459.5h1.0M67.5 460.3h1.0M92.0 455.5h1.0M86.0 454.3h1.0M65.8 456.8h1.0M72.5 465.4h1.0M74.2 461.7h1.0M82.7 457.1h1.0M89.4 453.4h1.0M92.0 456.4h1.0M60.6 460.1h1.0M87.3 457.0h1.0M100.4 453.3h1.0M86.8 457.9h1.0M68.7 461.0h1.0M60.9 454.8h1.0M86.5 452.8h1.0M78.0 452.1h1.0M80.6 453.3h1.0M84.0 451.8h1.0M85.7 455.2h1.0M80.8 456.2h1.0M81.3 452.6h1.0M46.8 459.9h1.0M67.8 456.4h1.0M85.0 450.4h1.0M70.0 455.8h1.0M66.4 458.8h1.0M78.0 454.4h1.0M67.5 460.0h1.0M71.6 459.0h1.0M85.3 450.6h1.0M66.0 457.9h1.0M84.6 458.2h1.0M90.7 458.3h1.0M75.1 456.4h1.0M89.9 454.3h1.0M93.2 450.7h1.0M88.4 455.2h1.0M54.8 461.8h1.0M84.0 456.2h1.0M65.9 456.6h1.0M99.3 452.2h1.0M64.4 457.7h1.0M74.7 454.5h1.0M69.4 460.5h1.0M61.9 463.8h1.0M72.7 454.2h1.0M90.3 457.1h1.0M66.7 459.9h1.0M55.9 456.3h1.0M94.5 454.3h1.0M63.3 459.6h1.0M91.9 455.2h1.0M56.5 457.9h1.0M85.6 458.1h1.0M103.9 453.4h1.0M73.7 457.0h1.0M95.3 452.3h1.0M96.1 447.1h1.0M90.1 453.6h1.0M86.1 457.8h1.0M64.7 457.8h1.0M83.3 457.8h1.0M67.7 454.9h1.0M55.8 466.1h1.0M77.4 456.1h1.0M60.9 461.0h1.0M73.5 461.2h1.0M91.0 455.5h1.0M89.1 452.5h1.0M75.6 455.3h1.0M63.6 458.2h1.0M78.5 460.7h1.0M68.0 456.4h1.0M85.6 457.1h1.0M80.2 455.1h1.0M86.5 456.9h1.0M56.1 458.2h1.0M61.9 455.0h1.0M81.9 456.5h1.0M81.2 453.9h1.0M77.1 454.2h1.0M85.1 457.9h1.0M103.1 457.7h1.0M69.5 456.3h1.0M67.9 458.6h1.0M51.2 455.9h1.0M63.4 459.6h1.0M80.1 457.3h1.0M102.8 451.9h1.0M69.6 463.1h1.0M84.2 453.9h1.0M53.3 454.9h1.0M48.4 459.9h1.0M80.8 459.2h1.0M78.0 454.7h1.0M70.9 462.8h1.0M57.2 459.3h1.0M80.5 458.2h1.0M74.9 458.4h1.0M90.5 455.0h1.0M74.0 456.6h1.0M67.5 457.2h1.0M76.2 457.5h1.0M97.6 458.4h1.0M74.4 458.8h1.0M84.0 458.2h1.0M80.4 457.2h1.0M73.7 454.9h1.0M91.6 459.0h1.0M88.7 456.9h1.0M83.3 454.9h1.0M57.1 460.7h1.0M82.4 454.7h1.0M67.9 461.3h1.0M57.2 463.8h1.0M88.9 462.3h1.0M70.7 457.4h1.0M73.5 457.6h1.0M77.1 454.7h1.0M93.7 452.9h1.0M73.6 458.7h1.0M72.9 456.0h1.0M84.5 455.0h1.0M63.8 457.8h1.0M77.6 461.5h1.0M66.1 460.6h1.0M69.7 456.5h1.0M75.8 457.7h1.0M91.7 460.3h1.0M72.1 461.0h1.0M93.1 457.5h1.0M70.4 460.0h1.0M78.7 457.6h1.0M76.7 458.7h1.0M94.7 458.2h1.0M77.6 459.5h1.0M98.5 452.0h1.0" stroke="#000" stroke-width="1.0" fill="none"/>
<path d="M60.9 454.0h1.0M57.2 459.8h1.0M60.9 458.8h1.0M53.1 455.6h1.0M50.0 460.3h1.0M54.1 455.8h1.0M57.1 455.7h1.0M53.3 456.6h1.0M61.6 462.4h1.0M54.4 453.3h1.0M56.1 458.2h1.0M56.4 459.7h1.0M53.7 460.8h1.0M58.3 458.6h1.0M53.4 456.6h1.0M57.8 454.7h1.0M54.4 455.8h1.0M49.4 459.8h1.0M54.9 458.1h1.0M58.5 453.5h1.0M54.7 458.9h1.0M58.3 454.7h1.0M57.9 458.7h1.0M60.4 461.4h1.0M57.2 464.4h1.0M55.0 456.7h1.0M53.6 455.2h1.0M54.9 452.4h1.0M54.7 459.3h1.0M59.0 457.0h1.0M60.6 456.0h1.0M54.5 452.4h1.0M52.0 455.6h1.0M60.8 459.6h1.0M50.7 459.6h1.0M56.9 457.3h1.0M55.1 457.1h1.0M52.9 452.8h1.0M54.6 461.8h1.0M60.6 457.2h1.0M52.1 457.4h1.0M58.5 459.0h1.0M52.7 459.1h1.0M54.2 459.5h1.0M53.4 453.7h1.0M55.2 460.2h1.0M50.7 457.7h1.0M58.4 456.9h1.0M52.5 463.9h1.0M58.2 461.0h1.0M51.3 462.8h1.0M48.5 456.5h1.0M57.9 461.9h1.0M51.4 456.1h1.0M55.8 452.4h1.0M57.5 459.6h1.0M53.3 459.6h1.0M58.0 458.9h1.0M57.0 462.4h1.0M53.1 458.5h1.0M53.0 461.0h1.0M53.4 459.4h1.0M55.5 458.2h1.0M61.7 457.8h1.0M60.5 460.4h1.0M60.1 457.5h1.0M58.6 460.2h1.0M52.6 458.8h1.0M54.5 457.9h1.0M60.0 455.9h1.0M48.5 453.0h1.0M53.3 456.1h1.0M55.1 459.6h1.0M61.8 458.9h1.0M56.8 455.9h1.0M57.2 461.9h1.0M60.2 452.3h1.0M58.4 462.6h1.0M58.2 453.7h1.0M53.8 459.7h1.0" stroke="#111" stroke-width="1.0" fill="none"/>
<line x1="117.7" y1="422.6" x2="188.1" y2="422.6" stroke="#000" stroke-width="1.5"/>
<line x1="118.7" y1="422.6" x2="118.7" y2="471.4" stroke="#000" stroke-width="1.4"/>
<line x1="117.1" y1="428.7" x2="118.7" y2="428.7" stroke="#000" stroke-width="0.9"/>
<line x1="117.1" y1="434.8" x2="118.7" y2="434.8" stroke="#000" stroke-width="0.9"/>
<line x1="117.1" y1="440.9" x2="118.7" y2="440.9" stroke="#000" stroke-width="0.9"/>
<line x1="117.1" y1="447" x2="118.7" y2="447" stroke="#000" stroke-width="0.9"/>
<line x1="117.1" y1="453.1" x2="118.7" y2="453.1" stroke="#000" stroke-width="0.9"/>
<line x1="117.1" y1="459.2" x2="118.7" y2="459.2" stroke="#000" stroke-width="0.9"/>
<line x1="117.1" y1="465.3" x2="118.7" y2="465.3" stroke="#000" stroke-width="0.9"/>
<line x1="118.7" y1="471.4" x2="187.6" y2="471.4" stroke="#000" stroke-width="1.1" stroke-dasharray="2.2,1.3"/>
<line x1="144.4" y1="422.6" x2="144.4" y2="471.4" stroke="#444" stroke-width="1.3"/>
<line x1="118.7" y1="451.8" x2="187.9" y2="451.8" stroke="#333" stroke-width="1.3"/>
<text x="118.7" y="478.2" font-size="5" text-anchor="middle" fill="#555">10<tspan font-size="3.5" dy="-2">0</tspan></text>
<text x="135.9" y="478.2" font-size="5" text-anchor="middle" fill="#555">10<tspan font-size="3.5" dy="-2">1</tspan></text>
<text x="153.2" y="478.2" font-size="5" text-anchor="middle" fill="#555">10<tspan font-size="3.5" dy="-2">2</tspan></text>
<text x="170.4" y="478.2" font-size="5" text-anchor="middle" fill="#555">10<tspan font-size="3.5" dy="-2">3</tspan></text>
<text x="187.6" y="478.2" font-size="5" text-anchor="middle" fill="#555">10<tspan font-size="3.5" dy="-2">4</tspan></text>
<text x="114.4" y="423.6" font-size="5" fill="#555" transform="rotate(-90 114.4 423.6)" text-anchor="end">10<tspan font-size="3.5" dy="-2">4</tspan></text>
<text x="114.4" y="471.4" font-size="5" fill="#555" transform="rotate(-90 114.4 471.4)" text-anchor="start">10<tspan font-size="3.5" dy="-2">0</tspan></text>
<path d="M175.2 432.6h0.9M144.4 438.9h0.9M144.5 446.4h0.9M135.7 425.1h0.9M157.8 441.0h0.9M174.9 443.1h0.9M180.6 449.5h0.9M152.9 437.5h0.9M130.2 432.1h0.9M158.8 426.2h0.9M166.0 428.4h0.9M149.5 450.2h0.9M125.6 425.1h0.9M149.2 429.2h0.9M168.3 424.1h0.9" stroke="#000" stroke-width="0.9" fill="none"/>
<path d="M176.3 468.0h0.9M172.6 460.4h0.9M138.7 464.6h0.9M154.3 460.4h0.9M142.4 460.7h0.9M164.5 467.5h0.9M180.5 455.9h0.9M139.5 460.8h0.9M157.6 459.1h0.9M132.8 454.5h0.9M141.4 461.1h0.9M185.1 468.9h0.9M177.9 470.1h0.9M184.4 463.8h0.9M174.3 454.1h0.9M165.2 463.7h0.9M139.6 463.0h0.9M183.8 461.4h0.9M163.2 458.2h0.9M142.7 468.5h0.9M121.5 456.3h0.9M165.3 460.8h0.9M125.3 464.6h0.9M144.7 463.2h0.9M147.7 462.3h0.9M157.7 459.9h0.9M127.3 456.2h0.9M179.6 462.6h0.9M127.2 468.1h0.9M136.7 454.7h0.9M155.4 457.4h0.9M152.6 462.7h0.9M134.9 463.0h0.9M127.2 462.0h0.9M159.3 454.4h0.9M147.1 454.3h0.9M149.2 468.1h0.9M156.7 465.5h0.9M170.6 455.0h0.9M186.4 465.6h0.9M126.5 467.5h0.9M146.0 456.0h0.9M184.3 462.9h0.9M171.8 455.4h0.9M171.9 454.0h0.9" stroke="#000" stroke-width="0.9" fill="none"/>
<path d="M154.7 437.4h1.0M145.6 441.9h1.0M153.7 436.0h1.0M174.0 438.5h1.0M181.4 442.4h1.0M180.8 441.3h1.0M182.6 447.4h1.0M151.9 444.9h1.0M159.0 445.3h1.0M172.9 446.5h1.0M150.0 437.5h1.0M175.2 449.0h1.0M174.6 430.9h1.0M169.8 432.0h1.0M167.5 446.1h1.0M149.6 448.5h1.0M172.7 435.1h1.0M152.9 438.9h1.0M179.4 441.6h1.0M149.7 430.4h1.0M149.5 446.0h1.0M152.6 441.1h1.0M156.9 443.7h1.0M160.6 432.9h1.0M180.9 440.8h1.0M173.3 446.2h1.0M183.9 430.3h1.0M159.0 433.0h1.0M165.6 447.5h1.0M177.8 430.7h1.0M152.5 446.4h1.0M172.9 437.9h1.0M164.5 433.2h1.0M179.6 437.9h1.0M180.8 442.2h1.0M148.1 436.6h1.0M153.9 447.9h1.0M169.2 430.9h1.0M152.0 437.2h1.0M164.2 441.5h1.0M160.9 437.1h1.0M145.2 441.6h1.0M158.7 430.4h1.0M163.8 449.7h1.0M146.9 432.9h1.0M172.5 435.5h1.0M156.2 440.0h1.0M155.7 441.4h1.0M166.7 449.1h1.0M185.7 430.7h1.0M168.0 445.4h1.0M180.8 445.5h1.0M171.0 442.7h1.0M159.9 435.6h1.0M177.6 447.5h1.0M183.5 443.6h1.0M157.5 445.3h1.0M175.3 440.2h1.0M171.0 437.0h1.0M167.6 438.1h1.0M147.5 436.7h1.0M158.3 449.8h1.0M164.7 437.3h1.0M155.0 434.7h1.0M159.3 432.7h1.0M145.3 447.4h1.0M163.6 438.9h1.0M168.3 436.0h1.0M151.9 431.3h1.0M157.4 436.2h1.0M174.8 441.0h1.0M183.4 436.8h1.0M182.8 441.7h1.0M148.3 433.6h1.0M168.8 449.7h1.0M159.6 445.5h1.0M162.6 447.4h1.0M147.8 439.7h1.0M181.9 435.5h1.0M155.6 430.5h1.0" stroke="#444" stroke-width="1.0" fill="none"/>
<path d="M173.6 443.1h1.0M168.2 437.0h1.0M165.1 441.8h1.0M155.6 434.6h1.0M166.4 437.6h1.0M167.7 428.5h1.0M167.1 438.9h1.0M176.7 431.4h1.0M167.4 442.1h1.0M174.2 445.2h1.0M179.1 435.5h1.0M175.5 438.6h1.0M163.1 446.6h1.0M164.6 436.3h1.0M166.5 436.3h1.0M178.7 441.6h1.0M182.1 441.8h1.0M164.7 444.5h1.0M164.3 438.0h1.0M168.5 440.2h1.0M180.3 437.4h1.0M173.0 439.9h1.0M159.1 435.3h1.0M168.1 441.8h1.0M172.8 442.1h1.0M170.4 438.1h1.0M173.7 435.7h1.0M158.4 438.6h1.0M157.6 437.8h1.0M163.5 437.6h1.0M169.6 436.5h1.0M166.3 432.6h1.0M171.3 436.2h1.0M173.5 427.7h1.0M163.0 441.1h1.0M148.8 438.4h1.0M170.8 440.4h1.0M157.0 441.0h1.0M171.3 435.8h1.0M176.5 439.8h1.0M170.2 438.0h1.0M174.8 440.4h1.0M179.9 442.0h1.0M164.6 439.0h1.0M178.0 438.4h1.0M173.3 442.3h1.0M168.4 429.9h1.0M171.1 440.9h1.0M171.2 436.7h1.0M180.5 439.4h1.0M164.6 436.9h1.0M173.1 435.3h1.0M161.3 448.7h1.0M181.4 444.6h1.0M181.9 442.6h1.0M155.3 445.2h1.0M180.8 442.1h1.0M153.0 445.4h1.0M181.9 437.9h1.0M171.1 443.4h1.0M169.3 444.8h1.0M170.7 443.0h1.0M170.7 433.6h1.0M161.3 453.8h1.0M172.4 445.7h1.0M179.9 447.5h1.0M174.8 437.4h1.0M170.2 431.6h1.0M168.4 444.0h1.0M151.1 440.9h1.0M177.2 445.8h1.0M161.9 437.2h1.0M153.6 435.6h1.0M174.7 449.0h1.0M160.0 446.0h1.0M173.7 437.8h1.0M169.4 441.0h1.0M178.6 446.0h1.0M174.5 441.6h1.0M168.4 438.2h1.0M159.3 448.5h1.0M166.1 430.9h1.0M172.3 439.9h1.0M171.5 447.9h1.0M169.1 438.8h1.0M163.5 439.9h1.0M166.2 440.9h1.0" stroke="#333" stroke-width="1.0" fill="none"/>
<path d="M133.6 468.8h1.0M125.9 469.6h1.0M125.4 469.6h1.0M125.3 470.7h1.0M126.4 470.6h1.0M121.3 468.0h1.0M120.5 469.9h1.0M125.8 467.1h1.0M127.2 465.8h1.0M122.7 469.2h1.0M122.9 468.8h1.0M127.0 468.6h1.0M122.7 468.2h1.0M121.1 465.3h1.0M126.9 465.7h1.0M120.5 469.0h1.0M120.4 469.3h1.0M121.4 468.6h1.0M123.4 468.0h1.0M122.9 470.7h1.0M121.1 469.0h1.0M123.6 468.9h1.0M126.4 465.1h1.0M123.9 467.7h1.0M121.9 466.3h1.0M120.3 466.0h1.0M128.8 468.0h1.0M125.5 466.1h1.0M123.5 470.8h1.0M122.9 466.0h1.0M122.2 466.1h1.0M121.6 466.4h1.0M120.0 466.2h1.0M123.8 470.7h1.0M123.3 469.1h1.0M126.9 466.9h1.0M124.0 466.6h1.0M126.5 464.3h1.0M123.7 467.6h1.0M123.7 467.1h1.0M124.5 469.3h1.0M125.6 469.1h1.0M124.4 465.7h1.0" stroke="#000" stroke-width="1.0" fill="none"/>
<path d="M127.1 462.5h1.0M127.4 457.9h1.0M130.2 459.7h1.0M127.2 458.5h1.0M124.9 461.6h1.0M125.6 464.6h1.0M129.0 462.5h1.0M132.8 467.0h1.0M134.1 462.9h1.0M128.9 458.9h1.0M127.7 464.7h1.0M131.5 460.5h1.0M120.9 456.0h1.0M132.2 466.0h1.0M132.6 456.6h1.0M128.5 462.9h1.0M123.7 463.4h1.0M128.6 458.7h1.0M121.5 465.2h1.0M132.4 458.5h1.0M123.1 465.5h1.0M134.1 460.8h1.0M140.9 460.9h1.0M122.8 466.3h1.0M128.7 463.3h1.0M130.3 458.1h1.0M121.9 461.2h1.0M139.6 458.1h1.0M139.3 462.9h1.0M122.4 463.0h1.0M133.9 458.5h1.0M122.4 463.7h1.0M124.5 456.2h1.0M128.4 462.7h1.0M126.2 457.4h1.0M131.4 455.2h1.0M133.6 463.9h1.0M141.4 465.4h1.0M132.4 463.0h1.0M130.2 456.8h1.0M140.0 464.0h1.0M128.1 457.5h1.0M140.1 464.1h1.0M121.9 464.6h1.0M142.9 461.9h1.0M132.7 460.4h1.0" stroke="#444" stroke-width="1.0" fill="none"/>
<path d="M130.2 448.5h1.1M145.7 435.5h1.1M132.0 446.2h1.1M131.0 446.4h1.1M132.9 437.2h1.1M125.8 445.5h1.1M135.4 441.9h1.1M134.1 434.9h1.1M132.1 439.5h1.1M132.1 443.9h1.1M126.0 444.7h1.1M126.1 446.9h1.1M126.1 443.4h1.1M130.7 440.1h1.1M135.1 437.8h1.1M135.5 441.8h1.1M125.7 444.9h1.1M126.4 443.8h1.1M133.3 450.2h1.1M132.1 449.7h1.1M130.5 437.2h1.1M121.5 451.3h1.1M123.1 450.7h1.1M136.6 441.8h1.1M129.5 442.6h1.1M131.6 441.3h1.1M127.8 443.0h1.1M135.3 437.8h1.1M130.5 437.9h1.1M125.0 439.9h1.1M131.4 445.9h1.1M131.5 440.5h1.1M133.2 440.2h1.1M133.3 443.0h1.1M128.7 432.8h1.1M126.4 449.1h1.1M134.9 451.3h1.1M128.8 441.6h1.1M139.1 441.2h1.1M140.9 440.0h1.1M131.5 446.1h1.1M126.5 443.4h1.1M128.0 443.6h1.1M133.7 439.3h1.1M131.5 440.4h1.1M129.8 430.9h1.1M130.4 444.1h1.1M127.9 449.4h1.1M134.5 447.0h1.1M136.7 442.8h1.1M128.2 439.5h1.1M129.1 441.9h1.1M131.3 440.7h1.1M142.1 429.5h1.1M135.6 438.3h1.1M131.7 446.9h1.1M128.7 438.7h1.1M132.5 441.3h1.1M121.8 448.9h1.1M124.6 443.0h1.1M133.8 442.8h1.1M133.9 451.5h1.1M131.8 439.7h1.1M131.9 442.0h1.1M128.5 453.9h1.1M129.6 442.5h1.1M130.3 447.9h1.1M134.4 449.0h1.1M137.9 446.8h1.1M131.2 444.6h1.1M128.7 443.5h1.1M121.8 445.3h1.1M125.3 443.1h1.1M137.2 440.8h1.1M138.4 442.9h1.1M137.2 444.2h1.1M129.7 447.4h1.1M128.5 441.9h1.1M140.8 447.7h1.1M129.8 451.7h1.1M133.2 437.9h1.1M133.0 443.6h1.1M132.1 440.8h1.1M125.1 446.4h1.1M136.5 443.6h1.1M136.2 445.2h1.1M126.3 445.4h1.1M134.5 445.7h1.1M132.7 444.4h1.1M135.7 450.1h1.1M120.8 448.5h1.1M143.0 437.5h1.1M122.7 448.1h1.1M123.0 444.2h1.1M135.4 448.5h1.1M134.4 444.2h1.1M136.1 441.1h1.1M126.8 444.8h1.1M132.0 441.2h1.1M127.2 443.4h1.1M122.0 443.2h1.1M129.9 441.9h1.1M133.9 447.9h1.1M132.3 442.1h1.1M123.5 442.2h1.1M131.1 438.9h1.1M130.9 438.1h1.1M131.5 442.4h1.1M134.9 439.1h1.1M129.7 444.8h1.1M134.5 448.9h1.1M128.8 441.8h1.1M130.4 445.5h1.1M133.4 444.9h1.1M129.4 455.3h1.1M139.5 438.2h1.1M125.7 446.6h1.1M128.6 434.0h1.1M128.2 437.7h1.1M135.8 446.7h1.1M132.9 435.0h1.1M139.2 442.7h1.1M130.3 445.7h1.1M137.4 438.0h1.1M129.8 441.1h1.1M132.2 432.4h1.1M135.7 436.0h1.1M132.2 434.9h1.1M125.5 443.3h1.1M131.7 435.1h1.1M132.6 439.2h1.1M136.2 438.7h1.1M132.9 441.2h1.1M138.6 437.2h1.1M134.7 450.1h1.1M132.7 445.2h1.1M128.0 445.6h1.1M120.7 449.1h1.1M125.1 439.3h1.1M126.6 450.6h1.1M130.0 436.5h1.1M138.1 435.9h1.1M129.8 444.8h1.1M122.6 440.1h1.1M129.8 449.1h1.1M132.4 435.0h1.1M136.7 440.1h1.1M133.4 441.9h1.1M131.0 438.4h1.1M125.4 442.8h1.1M130.5 446.1h1.1M128.4 451.7h1.1M126.9 442.5h1.1M135.1 442.8h1.1M127.4 440.1h1.1M123.3 439.9h1.1M138.4 443.9h1.1M140.6 440.0h1.1M134.0 444.8h1.1M134.9 439.7h1.1M136.8 449.7h1.1M120.4 442.3h1.1M128.0 448.1h1.1M135.9 438.8h1.1M134.0 441.1h1.1M131.3 440.3h1.1M130.9 443.1h1.1M140.6 448.0h1.1M123.6 449.5h1.1M132.9 446.4h1.1M137.4 443.1h1.1M132.9 437.6h1.1M126.3 453.3h1.1M134.8 436.6h1.1M138.3 442.1h1.1M121.3 452.4h1.1M128.7 449.6h1.1M126.4 442.1h1.1M123.4 446.2h1.1M134.4 438.0h1.1M126.5 455.3h1.1M140.9 440.8h1.1M126.2 440.1h1.1M124.5 449.1h1.1M135.0 435.9h1.1M130.5 442.0h1.1M130.8 445.4h1.1M139.5 435.4h1.1M137.1 444.7h1.1M129.4 443.2h1.1M126.9 450.2h1.1M127.3 442.0h1.1M129.6 439.8h1.1M125.6 444.6h1.1M137.5 438.5h1.1M130.6 436.4h1.1M125.5 454.4h1.1M126.2 438.5h1.1M131.7 445.4h1.1M121.3 444.3h1.1M130.4 439.1h1.1M136.6 444.4h1.1M132.2 440.3h1.1M129.6 440.9h1.1M131.0 444.5h1.1M131.5 447.2h1.1M142.0 434.5h1.1M134.2 445.1h1.1M133.5 440.5h1.1M130.7 447.8h1.1M134.9 443.2h1.1M128.5 447.3h1.1M134.3 440.3h1.1M138.2 449.1h1.1M123.4 449.9h1.1M122.9 441.1h1.1M131.0 445.5h1.1M129.0 438.7h1.1M123.2 444.7h1.1M129.4 440.0h1.1M127.4 453.1h1.1M126.8 444.6h1.1M127.3 442.3h1.1M130.6 441.8h1.1M131.6 437.2h1.1M127.9 453.7h1.1M132.1 445.9h1.1M137.6 442.0h1.1M128.1 437.4h1.1M125.4 450.6h1.1M135.3 443.3h1.1M123.8 441.5h1.1M129.8 438.9h1.1M137.2 436.7h1.1M130.1 447.5h1.1M130.8 438.9h1.1M138.6 447.8h1.1M124.8 445.2h1.1M122.2 438.8h1.1M135.3 443.9h1.1M136.4 442.0h1.1M121.5 448.1h1.1M125.6 440.5h1.1M127.3 448.6h1.1M133.5 450.8h1.1M129.5 435.0h1.1M137.6 445.2h1.1M128.8 438.6h1.1M136.7 433.8h1.1M126.9 436.4h1.1M121.8 440.1h1.1M138.4 444.4h1.1M126.4 439.2h1.1M131.5 444.5h1.1M121.6 442.8h1.1M131.9 445.8h1.1M132.2 444.4h1.1M120.2 437.3h1.1M130.7 438.9h1.1M129.7 442.0h1.1M131.7 439.0h1.1M137.9 439.4h1.1M134.7 443.9h1.1M136.7 441.8h1.1M121.5 445.2h1.1M140.7 439.9h1.1M134.6 443.2h1.1M126.6 442.2h1.1M130.2 448.8h1.1M136.2 448.5h1.1M137.1 448.5h1.1M130.8 437.6h1.1M139.9 439.7h1.1M137.1 440.7h1.1M129.8 444.5h1.1M123.3 441.6h1.1M125.8 443.4h1.1M124.4 446.1h1.1M136.4 449.5h1.1M139.6 438.1h1.1M134.8 439.9h1.1M132.8 441.9h1.1M128.6 444.7h1.1M124.9 448.4h1.1M127.5 439.8h1.1M130.4 445.9h1.1M128.7 446.5h1.1M136.8 447.2h1.1M125.6 445.4h1.1M136.4 447.1h1.1M133.7 445.1h1.1M122.9 444.7h1.1M138.3 437.7h1.1M139.8 434.7h1.1M126.5 437.9h1.1M134.5 442.3h1.1M140.9 438.4h1.1M127.0 438.5h1.1M132.5 446.7h1.1M137.0 445.5h1.1M135.0 440.6h1.1M134.2 442.1h1.1M128.1 452.7h1.1M130.7 438.2h1.1M133.4 443.0h1.1M138.6 445.7h1.1M136.4 435.6h1.1M122.7 448.9h1.1M133.3 443.4h1.1M124.8 444.2h1.1M133.4 445.2h1.1M142.1 438.4h1.1M123.4 436.0h1.1M135.9 439.7h1.1M128.5 439.7h1.1M130.9 434.5h1.1M131.8 443.2h1.1M135.0 447.0h1.1M130.7 443.6h1.1M132.0 435.1h1.1M129.7 444.0h1.1M134.0 437.6h1.1M135.6 442.3h1.1M120.9 441.5h1.1M124.4 447.3h1.1M133.4 445.1h1.1M133.8 438.8h1.1M137.8 443.2h1.1M134.2 443.5h1.1M125.6 447.7h1.1M123.7 441.3h1.1M129.6 444.4h1.1M130.1 441.9h1.1M126.6 446.3h1.1M124.6 439.8h1.1M134.4 448.1h1.1M126.9 440.2h1.1M141.1 445.6h1.1M129.2 443.0h1.1M137.9 453.3h1.1M133.6 446.3h1.1M129.5 435.2h1.1M123.2 441.4h1.1M133.3 442.3h1.1M139.1 437.3h1.1M132.6 442.5h1.1M136.3 451.1h1.1M135.3 447.7h1.1M136.0 437.4h1.1M133.5 439.8h1.1M131.8 443.3h1.1M130.2 441.2h1.1M138.0 437.9h1.1M137.7 447.3h1.1M136.1 445.1h1.1M139.9 443.3h1.1M136.4 433.2h1.1M140.5 438.0h1.1M121.3 445.2h1.1M124.2 446.6h1.1M121.8 443.2h1.1M132.7 442.8h1.1M126.7 444.2h1.1M130.7 443.5h1.1M130.5 442.2h1.1M132.0 434.8h1.1M128.9 444.8h1.1M128.0 442.0h1.1M129.3 444.9h1.1M136.6 439.0h1.1M130.4 445.0h1.1M125.9 436.5h1.1M131.5 440.9h1.1M129.5 446.8h1.1M130.1 440.8h1.1M130.8 442.5h1.1M133.6 442.7h1.1M126.1 439.6h1.1M125.4 445.4h1.1M127.0 448.8h1.1M121.0 439.9h1.1M126.5 437.0h1.1M136.9 435.1h1.1M130.3 442.2h1.1M123.5 438.6h1.1M123.8 451.1h1.1M140.3 448.3h1.1M125.1 448.9h1.1M132.6 446.2h1.1M130.0 447.0h1.1M136.5 442.9h1.1M137.6 438.5h1.1M137.0 436.3h1.1M133.5 428.5h1.1M129.5 440.0h1.1M133.1 446.8h1.1M134.7 441.5h1.1M136.2 433.1h1.1M130.1 450.7h1.1M128.4 434.5h1.1M130.3 437.7h1.1M140.4 443.3h1.1M131.0 449.2h1.1M128.8 448.6h1.1M133.5 441.0h1.1M123.6 445.7h1.1M124.5 452.4h1.1M121.4 436.6h1.1M134.6 442.8h1.1M132.8 452.1h1.1M134.9 441.2h1.1M121.9 433.8h1.1M135.2 445.3h1.1M125.3 439.4h1.1M127.4 436.9h1.1M132.6 445.8h1.1M138.8 440.0h1.1M133.5 445.2h1.1M137.1 438.1h1.1M123.5 443.3h1.1M123.1 443.0h1.1M131.1 444.6h1.1M131.9 442.8h1.1M130.1 445.5h1.1M136.8 443.5h1.1M137.6 438.0h1.1M133.2 449.9h1.1M132.8 444.0h1.1M131.3 447.5h1.1M127.0 440.3h1.1M129.8 441.5h1.1M134.3 439.4h1.1M131.2 441.9h1.1M131.4 439.8h1.1M133.5 434.8h1.1M127.7 441.4h1.1M134.2 441.4h1.1M132.7 440.5h1.1M125.3 440.8h1.1M128.3 441.9h1.1M133.1 443.6h1.1M135.5 440.0h1.1M125.3 441.1h1.1M132.0 444.2h1.1M140.8 438.5h1.1" stroke="#000" stroke-width="1.1" fill="none"/>
<polygon points="122.5,445 124,439 128,436 134,434.5 139,434.5 141.5,437 141.5,443 139,448.5 133,450.5 125,450.5" fill="#000"/>
<polygon points="145,453 179,453 176,455.8 168,458 156,460.8 146,461" fill="#000"/>
<path d="M178.0 460.1h1.0M149.9 461.2h1.0M171.7 459.3h1.0M160.1 459.5h1.0M155.2 457.3h1.0M160.7 461.6h1.0M158.1 459.7h1.0M160.5 455.1h1.0M162.6 458.5h1.0M153.1 459.4h1.0M152.7 455.4h1.0M162.1 456.2h1.0M149.8 453.8h1.0M160.3 457.6h1.0M155.5 457.9h1.0M144.9 459.5h1.0M164.2 457.3h1.0M153.9 457.8h1.0M161.6 459.6h1.0M162.8 457.4h1.0M153.0 460.0h1.0M171.5 454.6h1.0M166.4 457.2h1.0M159.2 453.7h1.0M177.0 450.4h1.0M162.9 455.7h1.0M171.3 454.8h1.0M160.6 458.5h1.0M164.4 455.2h1.0M166.9 457.3h1.0M169.7 454.7h1.0M159.4 456.0h1.0M151.7 458.5h1.0M164.4 460.3h1.0M156.9 458.3h1.0M171.3 455.6h1.0M160.7 457.3h1.0M152.9 455.1h1.0M171.1 456.3h1.0M158.9 453.9h1.0M161.5 459.9h1.0M148.4 455.8h1.0M171.4 459.6h1.0M175.3 454.0h1.0M165.8 454.5h1.0M165.1 455.5h1.0M162.3 460.3h1.0M163.3 456.0h1.0M160.6 457.6h1.0M155.0 458.0h1.0M166.3 460.4h1.0M139.3 456.0h1.0M148.0 460.5h1.0M184.2 455.1h1.0M161.5 459.8h1.0M135.8 459.0h1.0M129.2 460.5h1.0M154.8 456.3h1.0M163.2 455.2h1.0M171.0 455.9h1.0M164.4 463.1h1.0M155.8 459.8h1.0M152.2 461.0h1.0M169.6 456.4h1.0M170.2 460.1h1.0M173.6 455.6h1.0M159.7 459.9h1.0M145.3 456.9h1.0M164.9 458.0h1.0M178.8 459.7h1.0M163.3 457.8h1.0M146.9 457.8h1.0M162.5 456.2h1.0M160.7 458.5h1.0M150.5 456.5h1.0M142.8 461.7h1.0M149.2 453.7h1.0M167.5 455.7h1.0M169.4 455.1h1.0M181.1 456.7h1.0M161.5 457.1h1.0M158.2 459.3h1.0M179.6 453.9h1.0M149.4 459.6h1.0M170.1 452.1h1.0M152.9 455.1h1.0M165.7 457.7h1.0M152.5 454.8h1.0M166.2 451.1h1.0M166.3 456.0h1.0M179.1 457.6h1.0M154.2 456.9h1.0M157.1 455.4h1.0M161.0 459.4h1.0M145.1 457.9h1.0M174.8 457.4h1.0M151.8 455.7h1.0M151.2 453.7h1.0M171.3 456.0h1.0M152.8 454.0h1.0M156.1 456.1h1.0M176.8 454.1h1.0M161.4 459.6h1.0M166.5 455.9h1.0M139.0 462.7h1.0M165.7 455.3h1.0M158.9 454.7h1.0M150.8 454.1h1.0M165.0 457.8h1.0M161.9 458.8h1.0M165.3 456.8h1.0M151.5 459.4h1.0M171.8 457.4h1.0M172.1 454.6h1.0M150.7 461.1h1.0M154.4 458.2h1.0M158.1 457.2h1.0M157.2 455.9h1.0M143.1 463.6h1.0M161.5 451.9h1.0M150.9 455.0h1.0M152.1 451.3h1.0M166.0 460.6h1.0M157.8 459.1h1.0M165.5 453.3h1.0M171.5 451.5h1.0M154.3 456.7h1.0M172.3 456.1h1.0M158.6 455.1h1.0M160.9 457.0h1.0M167.5 459.8h1.0M167.2 456.3h1.0M158.9 461.2h1.0M162.0 456.8h1.0M177.9 459.2h1.0M165.5 456.2h1.0M154.1 460.3h1.0M155.8 459.9h1.0M152.4 458.0h1.0M164.0 457.0h1.0M162.4 457.7h1.0M148.8 455.3h1.0M159.0 461.7h1.0M158.6 454.8h1.0M153.6 457.7h1.0M171.4 454.4h1.0M165.5 456.9h1.0M156.3 455.0h1.0M158.3 455.3h1.0M164.8 452.0h1.0M171.2 457.8h1.0M166.0 460.2h1.0M165.4 452.1h1.0M160.6 458.1h1.0M153.1 454.8h1.0M164.3 457.9h1.0M155.8 456.8h1.0M154.9 456.1h1.0M159.7 459.8h1.0M144.3 457.7h1.0M175.8 456.2h1.0M161.7 459.0h1.0M150.0 454.9h1.0M143.5 454.9h1.0M162.6 458.9h1.0M155.8 455.7h1.0M164.1 458.2h1.0M162.0 451.9h1.0M154.1 451.1h1.0M162.1 454.6h1.0M154.0 461.4h1.0M172.9 456.9h1.0M162.7 457.2h1.0M154.3 457.4h1.0M178.3 452.9h1.0M153.6 458.1h1.0M168.9 458.2h1.0M150.6 457.6h1.0M157.1 454.2h1.0M160.6 455.7h1.0M169.0 457.2h1.0M152.5 458.0h1.0M156.4 455.7h1.0M155.6 460.2h1.0M155.6 453.1h1.0M152.7 459.8h1.0M180.6 452.3h1.0M156.5 456.5h1.0M146.5 459.4h1.0M159.6 457.8h1.0M181.6 454.2h1.0M167.9 458.3h1.0M153.7 456.1h1.0M175.3 457.3h1.0M161.1 454.1h1.0M168.7 457.5h1.0M181.6 458.6h1.0M167.8 456.9h1.0M160.5 455.6h1.0M163.0 457.3h1.0M166.6 459.1h1.0M162.9 455.3h1.0M168.2 460.1h1.0M152.0 458.9h1.0M165.4 457.8h1.0M164.9 456.3h1.0M159.4 461.3h1.0M176.4 451.8h1.0M135.6 460.6h1.0M153.4 456.4h1.0M144.7 459.4h1.0M159.3 455.7h1.0M169.3 462.2h1.0M174.6 458.5h1.0M156.2 459.1h1.0M159.9 459.9h1.0M165.6 456.3h1.0M165.2 454.7h1.0M168.0 460.0h1.0M156.7 458.7h1.0M144.1 461.0h1.0M168.2 453.6h1.0M176.9 455.6h1.0M142.9 455.2h1.0M168.4 455.5h1.0M170.3 452.0h1.0M159.3 459.6h1.0M153.6 459.4h1.0M156.6 458.2h1.0M163.7 462.3h1.0M148.2 460.2h1.0M172.4 452.9h1.0M161.4 462.7h1.0M169.4 448.5h1.0M157.3 452.9h1.0M162.7 454.9h1.0M154.4 455.4h1.0M162.7 455.5h1.0M151.2 457.3h1.0M163.7 454.5h1.0M170.3 451.8h1.0M163.8 455.6h1.0M175.0 453.9h1.0M153.3 454.3h1.0M179.4 456.6h1.0M149.4 457.2h1.0M151.1 461.8h1.0M163.5 451.5h1.0M162.3 459.1h1.0M160.1 458.2h1.0M159.0 457.6h1.0M161.9 455.0h1.0M163.4 457.1h1.0M159.5 455.3h1.0M150.3 458.6h1.0M167.4 450.1h1.0M155.2 460.9h1.0M168.7 454.3h1.0M172.8 453.2h1.0M152.9 462.6h1.0M155.7 456.9h1.0M143.8 456.1h1.0M148.6 457.8h1.0M142.5 461.5h1.0M156.4 455.8h1.0M154.1 459.5h1.0M174.7 454.5h1.0M176.0 459.5h1.0M173.1 456.4h1.0M145.8 460.1h1.0M156.1 457.9h1.0M141.7 458.1h1.0M162.0 454.4h1.0M163.3 460.9h1.0M162.1 455.1h1.0M182.5 449.3h1.0M151.2 458.9h1.0M153.7 451.8h1.0M162.7 458.8h1.0M152.7 461.5h1.0M165.1 459.5h1.0M145.2 458.5h1.0M176.0 460.5h1.0M172.8 455.7h1.0M161.6 455.2h1.0M170.5 454.2h1.0M160.7 451.7h1.0M145.9 462.9h1.0M160.6 457.5h1.0M138.7 459.1h1.0M179.7 451.2h1.0M136.9 458.9h1.0M154.8 457.0h1.0M147.5 454.8h1.0M148.2 459.8h1.0M159.7 459.1h1.0M149.7 459.5h1.0M155.7 457.7h1.0M169.1 456.2h1.0M156.2 453.1h1.0" stroke="#000" stroke-width="1.0" fill="none"/>
<line x1="117.2" y1="516.3" x2="188.2" y2="516.3" stroke="#000" stroke-width="1.5"/>
<line x1="118.2" y1="516.3" x2="118.2" y2="564.7" stroke="#000" stroke-width="1.4"/>
<line x1="116.6" y1="522.35" x2="118.2" y2="522.35" stroke="#000" stroke-width="0.9"/>
<line x1="116.6" y1="528.4" x2="118.2" y2="528.4" stroke="#000" stroke-width="0.9"/>
<line x1="116.6" y1="534.45" x2="118.2" y2="534.45" stroke="#000" stroke-width="0.9"/>
<line x1="116.6" y1="540.5" x2="118.2" y2="540.5" stroke="#000" stroke-width="0.9"/>
<line x1="116.6" y1="546.55" x2="118.2" y2="546.55" stroke="#000" stroke-width="0.9"/>
<line x1="116.6" y1="552.6" x2="118.2" y2="552.6" stroke="#000" stroke-width="0.9"/>
<line x1="116.6" y1="558.65" x2="118.2" y2="558.65" stroke="#000" stroke-width="0.9"/>
<line x1="118.2" y1="564.7" x2="187.7" y2="564.7" stroke="#000" stroke-width="1.1" stroke-dasharray="2.2,1.3"/>
<line x1="144.4" y1="516.3" x2="144.4" y2="564.7" stroke="#444" stroke-width="1.3"/>
<line x1="144.4" y1="545.7" x2="188" y2="545.7" stroke="#333" stroke-width="1.3"/>
<text x="118.2" y="571.5" font-size="5" text-anchor="middle" fill="#555">10<tspan font-size="3.5" dy="-2">0</tspan></text>
<text x="135.6" y="571.5" font-size="5" text-anchor="middle" fill="#555">10<tspan font-size="3.5" dy="-2">1</tspan></text>
<text x="152.9" y="571.5" font-size="5" text-anchor="middle" fill="#555">10<tspan font-size="3.5" dy="-2">2</tspan></text>
<text x="170.3" y="571.5" font-size="5" text-anchor="middle" fill="#555">10<tspan font-size="3.5" dy="-2">3</tspan></text>
<text x="187.7" y="571.5" font-size="5" text-anchor="middle" fill="#555">10<tspan font-size="3.5" dy="-2">4</tspan></text>
<text x="113.9" y="517.3" font-size="5" fill="#555" transform="rotate(-90 113.9 517.3)" text-anchor="end">10<tspan font-size="3.5" dy="-2">4</tspan></text>
<text x="113.9" y="564.7" font-size="5" fill="#555" transform="rotate(-90 113.9 564.7)" text-anchor="start">10<tspan font-size="3.5" dy="-2">0</tspan></text>
<path d="M155.7 529.0h0.9M167.2 525.2h0.9M170.7 559.5h0.9M154.3 544.5h0.9M175.6 552.2h0.9M175.2 550.4h0.9M157.2 556.4h0.9M183.9 519.5h0.9" stroke="#000" stroke-width="0.9" fill="none"/>
<path d="M134.1 556.1h1.0M130.0 557.5h1.0M130.6 553.4h1.0M132.2 559.2h1.0M122.7 560.7h1.0M128.1 558.7h1.0M131.3 559.2h1.0M124.2 555.6h1.0M130.2 558.5h1.0M131.4 557.8h1.0M125.1 559.7h1.0M130.8 559.6h1.0M124.1 557.3h1.0M125.2 556.2h1.0M129.1 557.9h1.0M123.3 550.8h1.0M123.4 558.3h1.0M123.0 558.1h1.0M125.8 554.7h1.0M134.9 561.1h1.0M127.4 556.9h1.0M133.7 553.7h1.0M122.8 559.8h1.0M133.3 555.8h1.0M123.4 557.9h1.0M119.7 555.8h1.0M126.6 550.9h1.0M131.5 558.9h1.0M134.3 553.4h1.0M120.4 555.0h1.0M120.3 562.1h1.0M122.2 556.2h1.0M129.2 558.1h1.0M136.6 554.3h1.0M133.2 557.4h1.0M121.0 557.4h1.0M119.7 561.0h1.0M123.7 559.5h1.0M135.7 555.5h1.0M122.7 557.3h1.0M121.8 559.2h1.0M129.0 555.1h1.0" stroke="#222" stroke-width="1.0" fill="none"/>
<path d="M126.2 545.7h1.1M119.5 552.1h1.1M127.0 538.4h1.1M123.1 552.4h1.1M135.6 552.3h1.1M136.3 542.6h1.1M142.5 548.5h1.1M134.1 546.1h1.1M136.6 544.2h1.1M133.4 528.3h1.1M148.1 533.7h1.1M143.3 553.2h1.1M127.5 542.2h1.1M135.0 525.5h1.1M129.3 542.8h1.1M141.9 533.2h1.1M119.1 525.6h1.1M134.1 542.1h1.1M132.8 542.4h1.1M131.7 529.8h1.1M134.5 544.7h1.1M134.0 551.6h1.1M127.2 521.0h1.1M125.1 542.9h1.1M130.7 546.7h1.1M154.8 541.4h1.1M131.8 536.1h1.1M132.9 545.4h1.1M123.3 550.0h1.1M139.2 546.1h1.1M131.6 539.0h1.1M119.7 543.9h1.1M126.1 535.7h1.1M140.3 535.2h1.1M127.1 547.0h1.1M145.8 538.2h1.1M140.6 537.4h1.1M133.9 545.3h1.1M122.6 547.5h1.1M144.3 543.9h1.1M135.7 532.2h1.1M144.2 544.0h1.1M122.0 545.2h1.1M123.1 533.6h1.1M148.2 539.1h1.1M128.4 535.6h1.1M127.2 544.6h1.1M143.6 535.1h1.1M137.9 527.5h1.1M142.6 542.4h1.1M124.8 552.0h1.1M129.1 551.6h1.1M136.7 555.5h1.1M126.4 540.3h1.1M134.8 540.0h1.1M143.6 537.5h1.1M136.7 553.1h1.1M120.1 530.7h1.1M126.7 535.5h1.1M135.0 540.2h1.1M133.3 537.5h1.1M130.7 544.7h1.1M138.4 535.9h1.1M132.4 534.9h1.1M133.1 529.5h1.1M137.5 547.6h1.1M132.2 535.5h1.1M129.9 535.1h1.1M156.5 535.9h1.1M123.1 543.9h1.1M138.7 529.5h1.1M128.5 541.0h1.1M132.9 536.6h1.1M131.5 538.5h1.1M140.7 542.0h1.1M132.6 536.8h1.1M128.8 534.3h1.1M129.2 555.4h1.1M139.3 544.4h1.1M141.8 551.3h1.1M133.7 540.0h1.1M124.1 541.4h1.1M132.4 528.1h1.1M120.1 554.4h1.1M132.7 545.2h1.1M134.1 537.6h1.1M133.4 550.1h1.1M129.1 544.6h1.1M139.8 538.6h1.1M134.3 535.4h1.1M136.7 538.9h1.1M141.1 536.6h1.1M144.1 540.9h1.1M127.7 532.7h1.1M137.9 535.2h1.1M142.3 553.6h1.1M137.8 530.6h1.1M133.0 535.3h1.1M148.0 539.9h1.1M135.5 552.2h1.1M125.9 537.0h1.1M133.1 545.1h1.1M123.8 541.1h1.1M129.8 548.3h1.1M121.9 534.4h1.1M129.0 537.8h1.1M138.0 537.1h1.1M151.9 539.3h1.1M136.1 550.2h1.1M138.9 540.7h1.1M126.7 537.8h1.1M136.4 542.9h1.1M135.1 546.3h1.1M127.4 532.4h1.1M142.7 539.2h1.1M127.8 532.5h1.1M140.4 533.5h1.1M124.4 548.0h1.1M122.4 559.5h1.1M128.4 562.2h1.1M132.8 541.6h1.1M128.0 538.4h1.1M128.6 540.1h1.1M139.3 532.1h1.1M129.0 523.3h1.1M142.4 542.5h1.1M132.0 540.5h1.1M138.4 544.9h1.1M138.1 540.9h1.1M131.3 540.4h1.1M122.8 531.0h1.1M136.5 542.4h1.1M134.9 555.5h1.1M142.6 554.4h1.1M127.2 556.8h1.1M126.1 539.1h1.1M139.2 540.7h1.1M131.7 538.1h1.1M145.3 523.6h1.1M139.0 551.1h1.1M130.6 545.3h1.1M123.6 548.4h1.1M154.5 538.0h1.1M141.7 542.5h1.1M130.5 536.7h1.1M132.7 530.9h1.1M120.0 552.1h1.1M131.0 545.3h1.1M133.4 545.2h1.1M123.0 531.4h1.1M134.8 549.7h1.1M125.1 534.9h1.1M123.6 544.6h1.1M134.3 541.7h1.1M127.0 542.8h1.1M133.4 535.2h1.1M135.3 536.3h1.1M137.5 547.2h1.1M126.3 544.6h1.1M133.6 535.6h1.1M128.4 526.7h1.1M123.7 542.1h1.1M141.3 537.8h1.1M132.5 543.9h1.1M136.7 545.6h1.1M139.2 548.7h1.1M126.1 543.1h1.1M131.2 545.6h1.1M128.6 547.1h1.1M142.4 536.3h1.1M127.9 542.3h1.1M135.1 542.8h1.1M139.6 532.9h1.1M135.5 551.2h1.1M138.9 545.9h1.1M129.7 543.8h1.1M134.0 528.5h1.1M127.9 539.8h1.1M129.9 533.0h1.1M131.0 537.8h1.1M132.6 540.7h1.1M131.6 549.0h1.1M132.3 544.4h1.1M128.2 545.8h1.1M130.7 535.6h1.1M122.1 546.3h1.1M128.0 542.2h1.1M138.9 546.8h1.1M147.6 543.1h1.1M137.5 547.8h1.1M127.4 540.5h1.1M129.8 532.2h1.1M135.3 535.3h1.1M144.7 537.5h1.1M128.1 541.0h1.1M128.4 540.7h1.1M130.1 529.0h1.1M141.7 546.6h1.1M133.8 537.6h1.1M130.5 543.1h1.1M123.7 532.8h1.1M123.9 549.6h1.1M122.9 548.7h1.1M124.5 561.7h1.1M131.4 541.1h1.1M139.9 549.7h1.1M140.1 533.9h1.1M137.1 555.8h1.1M132.1 537.1h1.1M122.9 547.5h1.1M134.0 541.5h1.1M120.9 552.0h1.1M138.0 542.1h1.1M143.6 535.6h1.1M139.6 534.4h1.1M142.1 540.8h1.1M141.1 539.4h1.1M132.9 550.5h1.1M125.7 540.5h1.1M124.9 546.5h1.1M128.5 537.2h1.1M128.8 549.9h1.1M124.9 539.4h1.1M130.6 536.2h1.1M126.9 538.7h1.1M135.8 529.1h1.1M135.5 532.0h1.1M128.5 558.9h1.1M125.5 539.1h1.1M128.7 548.3h1.1M131.6 526.3h1.1M120.7 540.1h1.1M132.0 549.7h1.1M127.3 545.5h1.1M122.6 549.7h1.1M132.6 535.6h1.1M130.5 554.9h1.1M128.2 530.1h1.1M126.9 530.5h1.1M131.1 543.7h1.1M130.6 542.3h1.1M140.6 540.4h1.1M127.0 521.3h1.1M134.7 536.0h1.1M129.6 543.9h1.1M137.7 529.4h1.1M125.3 540.3h1.1M129.2 549.8h1.1M131.8 524.1h1.1M142.6 529.8h1.1M124.7 542.7h1.1M120.8 559.0h1.1M132.8 545.5h1.1M125.5 557.8h1.1M136.8 536.1h1.1M143.3 529.5h1.1M127.5 542.4h1.1M134.5 533.7h1.1M140.5 554.7h1.1M125.0 542.6h1.1M128.3 536.7h1.1M138.6 543.4h1.1M131.1 541.7h1.1M122.0 548.9h1.1M124.8 550.2h1.1M129.6 536.8h1.1M141.9 544.6h1.1M128.5 535.9h1.1M133.2 556.5h1.1M136.8 538.8h1.1M125.4 534.2h1.1M130.8 542.8h1.1M125.5 550.1h1.1M126.6 534.1h1.1M134.6 545.5h1.1M127.8 548.0h1.1M119.7 551.9h1.1M143.9 559.3h1.1M129.7 556.6h1.1M130.3 551.5h1.1M130.3 542.2h1.1M138.4 528.0h1.1M127.8 554.2h1.1M137.8 544.9h1.1M131.1 552.1h1.1M137.3 526.6h1.1M126.0 537.4h1.1M133.7 537.7h1.1M128.6 553.9h1.1M137.5 547.0h1.1M132.0 541.5h1.1M134.1 543.4h1.1M125.8 546.1h1.1M126.4 539.5h1.1M131.4 531.5h1.1M136.3 541.3h1.1M124.1 538.8h1.1M120.3 550.3h1.1M132.4 557.3h1.1M127.0 545.7h1.1M126.7 533.0h1.1M130.7 544.1h1.1M138.8 540.2h1.1M138.0 550.1h1.1M126.3 538.4h1.1M123.0 553.1h1.1M126.8 547.2h1.1M138.7 540.3h1.1M128.1 543.0h1.1M128.7 530.0h1.1M124.9 542.3h1.1M130.5 555.0h1.1M122.3 548.4h1.1M136.6 543.0h1.1M142.7 540.1h1.1M130.0 532.1h1.1M127.3 541.0h1.1M134.6 551.9h1.1M131.3 534.9h1.1M130.4 537.2h1.1M129.4 537.2h1.1M126.1 539.4h1.1M128.8 539.0h1.1M122.3 540.2h1.1M134.9 546.8h1.1M130.1 531.4h1.1M125.0 530.1h1.1M128.1 537.7h1.1M122.6 533.5h1.1M125.8 546.5h1.1M145.1 540.8h1.1M130.8 537.6h1.1M130.9 539.4h1.1M150.5 535.9h1.1M132.5 534.7h1.1M135.2 537.5h1.1M137.6 533.4h1.1M146.0 545.5h1.1M130.6 531.4h1.1M135.8 537.6h1.1M137.9 537.8h1.1M137.9 543.4h1.1M134.2 542.7h1.1M130.1 537.7h1.1M134.0 547.1h1.1M125.7 557.8h1.1M145.3 534.5h1.1M139.5 542.0h1.1M134.8 535.2h1.1M144.5 536.9h1.1M132.6 535.3h1.1M143.1 553.4h1.1M123.8 535.7h1.1M135.1 538.2h1.1M131.3 532.2h1.1M135.4 532.9h1.1M133.9 560.7h1.1M127.2 553.3h1.1M135.6 536.4h1.1M131.2 533.1h1.1M131.7 546.6h1.1M138.7 540.1h1.1M124.0 538.8h1.1" stroke="#000" stroke-width="1.1" fill="none"/>
<polygon points="120.5,535 123,529.5 128,527.5 133,527 136,524.5 139,527 141.5,532 143.5,539 144,546 141,551 135,554.5 127,555 121.5,551 120.3,543" fill="#000"/>
<path d="M58.3 447.7h1.0M49.7 441.9h1.0M47.9 448.3h1.0M45.3 450.3h1.0M47.2 444.9h1.0M47.1 446.8h1.0M54.9 445.6h1.0M41.2 446.8h1.0M52.6 450.8h1.0M44.5 450.6h1.0M53.3 448.1h1.0M46.2 444.8h1.0M45.3 449.3h1.0M51.1 449.6h1.0M59.0 447.1h1.0M43.6 445.9h1.0M48.2 446.1h1.0M50.7 445.0h1.0M55.7 443.7h1.0M46.0 442.9h1.0M43.1 448.4h1.0M53.1 446.5h1.0M54.2 448.5h1.0M47.2 446.9h1.0" stroke="#bbb" stroke-width="1.0" fill="none"/>
<path d="M126.8 447.9h1.0M131.7 450.0h1.0M131.1 449.6h1.0M123.8 446.4h1.0M140.5 447.6h1.0M129.4 447.7h1.0M129.7 443.8h1.0M125.6 446.6h1.0M129.8 444.9h1.0M128.5 445.2h1.0M122.5 445.4h1.0M125.0 449.1h1.0M135.6 448.4h1.0M128.0 445.7h1.0M136.7 449.8h1.0M130.1 446.4h1.0M129.0 448.0h1.0M129.0 448.1h1.0M125.2 447.1h1.0M127.3 449.6h1.0M128.6 445.8h1.0" stroke="#bbb" stroke-width="1.0" fill="none"/>
<path d="M128.1 550.4h1.0M126.9 551.3h1.0M125.2 545.1h1.0M131.4 549.9h1.0M136.2 551.2h1.0M124.6 551.6h1.0M138.9 553.2h1.0M122.6 549.8h1.0M130.8 547.0h1.0M130.2 552.8h1.0M132.0 548.1h1.0M124.6 546.7h1.0M121.7 550.9h1.0M128.2 553.8h1.0M129.3 549.1h1.0M128.8 549.9h1.0M123.1 547.0h1.0M131.1 547.2h1.0M130.9 551.9h1.0M126.1 545.3h1.0M130.0 554.1h1.0M124.0 546.3h1.0M133.3 550.4h1.0M124.9 553.6h1.0M126.6 551.3h1.0M126.0 547.8h1.0M129.1 547.5h1.0M134.1 553.2h1.0M138.7 552.9h1.0M135.9 550.8h1.0M125.9 551.4h1.0M123.3 552.2h1.0M125.8 550.8h1.0M123.8 549.6h1.0M132.8 549.4h1.0M124.7 550.9h1.0M132.3 549.5h1.0M122.3 545.5h1.0M121.4 553.1h1.0M127.6 551.4h1.0M133.3 550.9h1.0" stroke="#aaa" stroke-width="1.0" fill="none"/>
<path d="M129.4 533.6h1.0M126.5 538.8h1.0M121.8 535.4h1.0M136.9 532.0h1.0M127.5 542.4h1.0M125.9 536.7h1.0M124.8 542.3h1.0M126.6 534.3h1.0M129.1 534.9h1.0M124.5 543.5h1.0M131.8 536.6h1.0M131.0 540.0h1.0M129.8 536.3h1.0M127.4 538.0h1.0M129.8 537.8h1.0M124.3 535.7h1.0M129.2 531.3h1.0M127.0 539.7h1.0" stroke="#888" stroke-width="1.0" fill="none"/>
<line x1="8.8" y1="431" x2="8.8" y2="529.5" stroke="#000" stroke-width="1.6"/>
<polygon points="5.3,432.5 12.3,432.5 8.8,423.5" fill="#000"/>
<line x1="53.6" y1="592.6" x2="169.5" y2="592.6" stroke="#000" stroke-width="1.6"/>
<polygon points="168.6,589.4 168.6,595.8 176.3,592.6" fill="#000"/>
<defs><linearGradient id="g1" x1="0" y1="0" x2="1" y2="1"><stop offset="0" stop-color="#c6c6c6"/><stop offset="1" stop-color="#dadada"/></linearGradient><linearGradient id="g2" x1="0" y1="0" x2="1" y2="0.6"><stop offset="0" stop-color="#cbcbcb"/><stop offset="1" stop-color="#dddddd"/></linearGradient><radialGradient id="rg"><stop offset="0" stop-color="#474747"/><stop offset="0.35" stop-color="#555"/><stop offset="0.6" stop-color="#7a7a7a" stop-opacity="0.8"/><stop offset="0.85" stop-color="#aaa" stop-opacity="0.35"/><stop offset="1" stop-color="#ccc" stop-opacity="0"/></radialGradient><radialGradient id="rg2"><stop offset="0" stop-color="#777"/><stop offset="0.55" stop-color="#8c8c8c" stop-opacity="0.75"/><stop offset="1" stop-color="#c8c8c8" stop-opacity="0"/></radialGradient></defs>
<rect x="36.5" y="655.3" width="95.5" height="70.4" fill="url(#g1)"/>
<rect x="145.4" y="655.4" width="95.1" height="70.2" fill="url(#g2)"/>
<ellipse cx="70.5" cy="689" rx="11" ry="10" fill="url(#rg2)"/>
<ellipse cx="90.5" cy="677.5" rx="10.5" ry="7" fill="url(#rg2)" opacity="0.8"/>
<path d="M71.4 687.7h0.9M70.4 686.7h0.9M75.8 687.3h0.9M61.5 683.3h0.9M72.1 690.1h0.9M68.0 682.8h0.9M69.7 685.0h0.9M67.0 689.1h0.9M66.4 690.6h0.9M66.5 686.8h0.9M69.3 696.1h0.9M79.0 693.6h0.9M66.5 689.1h0.9M75.4 692.9h0.9M61.7 688.8h0.9M66.5 692.7h0.9M73.9 686.5h0.9M82.0 687.7h0.9M83.7 688.3h0.9M70.0 698.2h0.9M67.7 686.8h0.9M78.4 688.9h0.9M73.1 683.1h0.9M80.1 693.8h0.9M72.4 692.5h0.9M67.8 686.8h0.9M62.0 690.8h0.9M77.2 693.2h0.9M75.5 692.5h0.9M65.5 682.8h0.9M74.0 689.9h0.9M75.8 687.8h0.9M65.8 691.2h0.9M67.5 681.3h0.9M67.2 684.9h0.9M64.5 686.5h0.9M75.6 700.3h0.9M79.8 687.1h0.9M76.7 688.7h0.9M72.7 685.9h0.9M70.1 681.1h0.9M80.1 685.4h0.9M73.7 686.3h0.9M72.0 683.5h0.9M68.5 693.4h0.9M73.7 679.8h0.9M75.1 682.8h0.9M72.0 691.6h0.9M67.0 687.6h0.9M69.2 691.0h0.9M75.4 695.6h0.9M72.3 698.6h0.9M65.4 697.5h0.9M69.1 692.7h0.9M69.8 689.5h0.9M65.6 690.9h0.9M81.4 689.8h0.9M70.4 689.1h0.9M74.3 688.1h0.9M70.5 690.1h0.9M77.5 693.6h0.9M64.8 686.1h0.9M70.6 693.1h0.9M75.7 688.1h0.9M82.0 688.3h0.9M78.1 695.8h0.9M79.1 690.0h0.9M73.6 681.8h0.9M60.9 686.2h0.9M74.4 694.1h0.9M69.9 694.0h0.9M73.6 696.3h0.9M61.9 685.1h0.9M65.3 684.1h0.9M79.4 684.7h0.9M66.0 687.2h0.9M75.3 686.9h0.9M74.5 691.7h0.9M67.1 677.9h0.9M65.6 683.2h0.9M79.3 685.7h0.9M64.7 690.9h0.9M70.8 684.6h0.9M76.4 693.4h0.9M72.0 685.5h0.9M65.8 679.3h0.9M72.6 690.9h0.9M65.5 689.2h0.9M88.2 683.7h0.9M61.3 692.0h0.9M68.2 686.7h0.9M73.9 688.5h0.9M75.9 691.5h0.9M76.8 689.6h0.9M58.9 695.5h0.9M61.3 694.0h0.9M71.9 682.5h0.9M70.9 693.3h0.9M65.0 689.3h0.9M66.5 684.3h0.9M67.2 695.1h0.9M74.2 688.9h0.9M70.1 689.7h0.9M72.0 689.9h0.9M61.2 693.4h0.9M65.9 676.7h0.9M74.3 683.3h0.9M69.7 688.6h0.9M67.3 691.6h0.9M69.0 687.7h0.9" stroke="#555" stroke-width="0.9" fill="none"/>
<path d="M85.3 676.6h0.9M84.9 677.7h0.9M97.6 680.9h0.9M92.8 673.0h0.9M96.1 680.6h0.9M101.6 670.1h0.9M90.6 676.4h0.9M96.4 673.9h0.9M88.4 685.3h0.9M95.9 670.9h0.9M90.6 682.1h0.9M87.2 679.5h0.9M91.0 672.7h0.9M87.1 681.3h0.9M96.9 675.5h0.9M96.6 675.2h0.9M91.8 677.5h0.9M83.7 678.6h0.9M88.4 668.4h0.9M86.0 674.7h0.9M86.0 674.3h0.9M86.8 669.4h0.9M95.3 677.8h0.9M91.9 676.6h0.9M90.8 676.7h0.9M84.6 672.5h0.9M90.9 680.9h0.9M91.8 682.9h0.9M83.1 676.6h0.9M87.2 681.6h0.9M99.7 675.8h0.9M94.5 676.7h0.9M85.1 677.2h0.9M84.9 682.7h0.9M93.7 681.5h0.9M92.4 669.4h0.9M94.8 677.8h0.9M77.6 677.9h0.9M96.0 683.2h0.9M85.0 680.2h0.9M92.3 676.9h0.9M89.0 679.3h0.9M93.6 679.7h0.9M88.3 673.1h0.9M97.6 681.9h0.9M87.4 677.4h0.9M94.9 671.6h0.9M93.2 685.6h0.9M92.0 675.2h0.9M101.6 677.5h0.9M91.6 676.1h0.9M91.5 671.5h0.9M83.6 672.6h0.9M95.4 677.2h0.9M96.7 670.7h0.9M87.3 682.4h0.9M86.2 671.3h0.9M86.5 676.4h0.9M90.4 681.9h0.9M97.7 682.7h0.9M93.6 675.8h0.9M87.8 672.6h0.9M97.4 681.7h0.9M91.0 674.5h0.9M94.2 679.1h0.9M91.3 673.6h0.9M91.8 675.6h0.9M94.5 679.5h0.9M92.9 676.1h0.9M98.7 680.1h0.9" stroke="#666" stroke-width="0.9" fill="none"/>
<path d="M85.3 682.9h0.9M82.7 683.1h0.9M74.2 681.7h0.9M77.5 686.6h0.9M83.4 682.2h0.9M82.4 687.2h0.9M76.6 680.5h0.9M74.3 685.7h0.9M83.3 683.7h0.9M80.2 685.6h0.9M79.0 682.1h0.9M79.6 685.8h0.9M82.0 679.3h0.9M76.7 685.6h0.9M86.0 677.0h0.9M76.2 686.7h0.9M81.1 681.3h0.9M80.5 684.6h0.9M74.0 686.7h0.9M83.1 684.3h0.9M83.9 681.2h0.9M76.6 689.0h0.9M81.9 680.7h0.9M84.8 683.7h0.9M76.8 678.8h0.9M77.5 682.8h0.9M77.0 684.9h0.9M76.7 686.4h0.9M85.1 677.4h0.9M83.0 680.4h0.9M81.7 682.2h0.9M83.6 679.6h0.9M81.6 680.5h0.9M80.8 683.0h0.9M81.9 678.1h0.9" stroke="#777" stroke-width="0.9" fill="none"/>
<ellipse cx="80" cy="683.5" rx="5" ry="3" fill="#9a9a9a" opacity="0.5"/>
<ellipse cx="185" cy="693.5" rx="25" ry="24" fill="url(#rg)"/>
<path d="M182.3 696.1h0.8M185.1 686.8h0.8M178.7 694.7h0.8M186.2 689.9h0.8M181.8 668.1h0.8M188.0 709.3h0.8M175.8 702.2h0.8M190.9 688.8h0.8M191.9 691.1h0.8M191.4 698.3h0.8M198.7 699.5h0.8M183.3 694.1h0.8M194.1 692.5h0.8M180.2 696.1h0.8M191.7 705.4h0.8M179.5 692.1h0.8M185.0 693.5h0.8M175.0 693.9h0.8M171.2 698.1h0.8M185.5 695.3h0.8M190.4 695.3h0.8M186.8 685.2h0.8M186.3 692.5h0.8M166.4 700.3h0.8M181.8 692.8h0.8M185.6 693.8h0.8M182.9 690.0h0.8M194.1 688.7h0.8M185.6 692.3h0.8M181.2 692.2h0.8M184.7 693.1h0.8M181.6 693.8h0.8M186.3 693.8h0.8M182.1 708.5h0.8M184.3 693.8h0.8M188.1 699.8h0.8M192.0 678.3h0.8M182.0 697.6h0.8M189.8 681.2h0.8M177.6 699.1h0.8M174.5 689.4h0.8M171.4 669.3h0.8M181.7 692.8h0.8M183.0 696.8h0.8M185.1 694.5h0.8M183.5 694.0h0.8M187.5 690.9h0.8M179.3 709.7h0.8M185.3 696.1h0.8M183.4 684.8h0.8M184.4 694.3h0.8M191.0 680.5h0.8M209.3 691.4h0.8M208.3 694.9h0.8M195.2 684.1h0.8M182.9 695.1h0.8M185.4 690.6h0.8M186.5 686.8h0.8M184.6 693.4h0.8M198.0 696.4h0.8M185.3 691.1h0.8M197.7 693.5h0.8M184.4 702.9h0.8M174.0 681.4h0.8M183.3 694.1h0.8M189.6 709.0h0.8M170.2 690.3h0.8M188.5 703.1h0.8M183.9 696.0h0.8M182.5 696.8h0.8M184.2 687.6h0.8M184.6 690.4h0.8M185.0 693.5h0.8M190.3 697.0h0.8M184.9 702.1h0.8M185.6 693.0h0.8M188.7 692.1h0.8M178.7 676.7h0.8M184.2 693.2h0.8M212.1 686.3h0.8M189.9 693.9h0.8M187.8 701.5h0.8M183.2 694.3h0.8M185.8 692.3h0.8M176.1 715.3h0.8M184.7 695.5h0.8M186.9 701.0h0.8M190.4 698.3h0.8M185.0 693.5h0.8M170.7 698.3h0.8M178.4 711.0h0.8M184.5 690.5h0.8M175.2 707.5h0.8M175.7 689.9h0.8M182.1 693.9h0.8M189.1 690.1h0.8M168.4 680.7h0.8M196.5 684.1h0.8M187.5 694.0h0.8M177.1 691.8h0.8M189.0 687.0h0.8M179.5 684.6h0.8M188.0 701.0h0.8M193.6 692.6h0.8M185.3 694.2h0.8M184.5 696.5h0.8M191.2 698.9h0.8M190.2 703.1h0.8M188.7 681.4h0.8M190.9 686.8h0.8M187.8 696.2h0.8M166.2 696.9h0.8M190.5 691.1h0.8M194.5 691.0h0.8M171.8 712.2h0.8M186.6 698.1h0.8M179.9 692.1h0.8M186.2 691.9h0.8M185.0 693.4h0.8M197.6 702.2h0.8M200.6 689.5h0.8M183.0 682.2h0.8M183.1 697.6h0.8M185.1 683.2h0.8M195.0 696.1h0.8M186.5 689.4h0.8M181.3 694.1h0.8M176.4 691.1h0.8M189.6 694.2h0.8M185.2 693.3h0.8M172.8 669.9h0.8M198.3 689.1h0.8M200.0 689.5h0.8M183.8 685.1h0.8M164.6 678.3h0.8M182.6 694.4h0.8M182.0 691.6h0.8M193.3 695.0h0.8M185.4 693.3h0.8M187.2 695.9h0.8M185.5 693.5h0.8M189.8 699.5h0.8M191.2 689.1h0.8M193.9 702.6h0.8M184.2 693.9h0.8M184.7 693.6h0.8M190.1 695.3h0.8M185.1 693.5h0.8M185.2 693.2h0.8M183.9 690.5h0.8M178.6 693.8h0.8M184.6 693.5h0.8M190.1 679.2h0.8M169.9 701.4h0.8M184.9 694.3h0.8M177.4 683.8h0.8M175.4 689.2h0.8M176.3 692.8h0.8M185.5 693.5h0.8M184.0 695.2h0.8M181.7 701.0h0.8M193.2 695.2h0.8M205.7 682.8h0.8M184.2 691.4h0.8M184.9 693.0h0.8M183.7 684.3h0.8M189.0 706.8h0.8M185.8 688.6h0.8M190.9 703.4h0.8M191.0 677.6h0.8M190.8 692.7h0.8M189.2 696.7h0.8M184.9 693.1h0.8M188.1 678.0h0.8M161.2 691.2h0.8M179.1 686.0h0.8M178.7 684.5h0.8M185.3 686.8h0.8M177.5 690.0h0.8M177.3 697.5h0.8M175.8 697.5h0.8M181.8 695.9h0.8M166.0 702.5h0.8M203.7 704.8h0.8M187.0 693.7h0.8M174.2 696.9h0.8M180.2 690.5h0.8M191.3 694.1h0.8M191.1 687.6h0.8M181.6 694.2h0.8M174.9 712.8h0.8M189.5 686.4h0.8M185.0 694.0h0.8M190.1 677.3h0.8M178.7 694.6h0.8M186.6 688.6h0.8M187.3 690.9h0.8M181.3 691.2h0.8M187.8 693.3h0.8M192.6 702.8h0.8M185.5 693.7h0.8M186.6 689.7h0.8M172.9 673.9h0.8M188.7 691.9h0.8M175.8 685.6h0.8M177.1 697.6h0.8M185.0 709.4h0.8M190.8 698.8h0.8M186.1 701.3h0.8M179.3 704.1h0.8M182.4 694.5h0.8M183.7 687.2h0.8M172.1 715.6h0.8M180.5 701.6h0.8M177.9 688.2h0.8M179.6 688.5h0.8M183.9 692.3h0.8M186.8 695.2h0.8M180.7 691.9h0.8M178.6 687.9h0.8M192.1 688.6h0.8M184.3 693.1h0.8M184.8 694.8h0.8M184.5 699.7h0.8M179.6 695.6h0.8M186.3 696.9h0.8M186.6 695.1h0.8M177.0 699.4h0.8M185.7 683.3h0.8M179.1 697.8h0.8M186.5 684.2h0.8M191.1 690.4h0.8M184.9 706.7h0.8M184.2 691.8h0.8M184.4 694.0h0.8M189.6 689.7h0.8M182.4 696.5h0.8M173.0 691.6h0.8M186.2 697.7h0.8M181.1 685.4h0.8M167.6 688.9h0.8M184.8 693.6h0.8M185.4 693.7h0.8M188.5 686.8h0.8M181.2 692.3h0.8M183.0 700.6h0.8M182.8 704.3h0.8M189.0 678.1h0.8M181.0 682.2h0.8M193.4 700.4h0.8M189.4 694.7h0.8M177.5 692.2h0.8M189.6 684.6h0.8M185.3 699.4h0.8M185.2 693.5h0.8M195.1 696.3h0.8M185.8 693.4h0.8M201.5 707.7h0.8M176.4 681.9h0.8M179.5 710.7h0.8M190.3 697.2h0.8M204.6 691.0h0.8M182.6 690.6h0.8M183.8 701.5h0.8M187.9 695.2h0.8M184.8 693.3h0.8M182.2 697.2h0.8M195.3 689.0h0.8M185.1 701.4h0.8M177.3 682.5h0.8M175.0 692.9h0.8M201.2 706.4h0.8M185.3 694.1h0.8M171.4 695.4h0.8M181.7 692.4h0.8M161.4 698.0h0.8M186.0 693.8h0.8M184.2 695.2h0.8M195.0 705.4h0.8M193.3 701.8h0.8M182.1 703.0h0.8M196.0 702.0h0.8M183.7 690.7h0.8M191.4 702.4h0.8M183.6 691.4h0.8M187.9 698.1h0.8M178.5 697.8h0.8M177.3 691.1h0.8M168.9 688.3h0.8M195.0 699.3h0.8M174.9 711.0h0.8M193.2 689.3h0.8M186.9 674.8h0.8M181.0 691.6h0.8M185.1 693.6h0.8M188.7 690.0h0.8M179.8 703.7h0.8M191.3 697.9h0.8M183.4 688.2h0.8M199.4 680.8h0.8M180.1 703.8h0.8M179.6 679.8h0.8M182.5 696.0h0.8M187.7 688.9h0.8M181.1 694.4h0.8M180.8 701.8h0.8M184.3 693.4h0.8M170.6 711.5h0.8M178.5 676.8h0.8M185.8 681.2h0.8M179.4 691.6h0.8M190.2 689.1h0.8M185.5 692.0h0.8M186.5 697.6h0.8M204.8 689.2h0.8M180.0 692.6h0.8M174.2 689.9h0.8M182.3 692.5h0.8M189.0 695.9h0.8M186.7 695.4h0.8M178.8 682.4h0.8M179.3 679.2h0.8M186.4 692.9h0.8M185.0 694.0h0.8M186.5 685.9h0.8M186.5 682.6h0.8M198.5 712.7h0.8M184.9 689.5h0.8M177.6 698.7h0.8M186.2 693.2h0.8M185.8 689.6h0.8M184.0 685.1h0.8M181.7 693.8h0.8M192.7 686.8h0.8M179.4 681.2h0.8M186.5 689.5h0.8M183.7 693.3h0.8M185.3 693.3h0.8M180.0 672.8h0.8M185.9 694.6h0.8M182.5 697.4h0.8M170.4 707.7h0.8M187.1 693.4h0.8M187.0 695.4h0.8M193.1 697.5h0.8M184.7 697.6h0.8M164.0 700.3h0.8M191.2 683.9h0.8M176.3 690.3h0.8M182.3 691.6h0.8M168.8 715.7h0.8M184.4 689.4h0.8M187.4 689.1h0.8M183.5 695.6h0.8M205.9 713.6h0.8M193.0 680.6h0.8M186.4 693.1h0.8M192.9 694.6h0.8M183.0 705.9h0.8M183.5 697.9h0.8M178.4 681.4h0.8M183.2 698.7h0.8M184.4 687.1h0.8M168.4 696.4h0.8M184.3 693.7h0.8M181.9 694.1h0.8M178.4 687.9h0.8M200.2 679.8h0.8M188.3 689.4h0.8M190.5 703.8h0.8M184.7 695.9h0.8M210.4 713.8h0.8M191.4 693.7h0.8M178.1 688.9h0.8M189.4 697.1h0.8M192.3 689.0h0.8M183.8 695.5h0.8M191.6 692.1h0.8M183.4 692.5h0.8M181.4 692.6h0.8M182.1 668.1h0.8M187.2 695.1h0.8M175.1 703.2h0.8M185.1 693.5h0.8M184.4 719.6h0.8M184.6 697.7h0.8M176.0 690.1h0.8M195.6 689.1h0.8M191.0 691.5h0.8M187.7 688.2h0.8M208.7 696.1h0.8M184.6 706.7h0.8M180.1 698.7h0.8M183.9 689.7h0.8M172.7 676.9h0.8M198.1 699.5h0.8M183.8 690.2h0.8M189.6 695.8h0.8M188.9 693.4h0.8M188.4 682.4h0.8M197.5 691.2h0.8M184.0 699.4h0.8M166.6 691.5h0.8M183.9 691.7h0.8M191.8 683.7h0.8M189.6 687.3h0.8M185.5 695.0h0.8M183.1 693.1h0.8M171.0 686.7h0.8M165.8 700.8h0.8M190.2 704.9h0.8M177.7 696.8h0.8M200.2 693.8h0.8M191.7 700.5h0.8M184.7 701.2h0.8M200.7 679.7h0.8M193.8 709.8h0.8M184.5 693.2h0.8M177.0 702.2h0.8M185.1 694.8h0.8M178.3 689.6h0.8M185.9 693.9h0.8M182.8 687.8h0.8M180.3 695.3h0.8M189.5 693.1h0.8M176.2 694.8h0.8M192.6 705.3h0.8M180.4 702.2h0.8M185.6 691.6h0.8M181.6 690.2h0.8M180.5 694.8h0.8M184.9 691.0h0.8M183.0 690.1h0.8M181.7 690.8h0.8M185.7 681.3h0.8M184.1 691.6h0.8M179.9 689.6h0.8M181.7 694.2h0.8M156.8 684.8h0.8M163.8 686.0h0.8M183.7 695.8h0.8M183.8 678.4h0.8M185.2 708.6h0.8M153.6 717.7h0.8M199.3 688.0h0.8M189.3 688.9h0.8M190.4 710.5h0.8M210.0 703.8h0.8M178.5 710.3h0.8M183.1 691.6h0.8M185.3 693.4h0.8M185.5 693.7h0.8M187.4 694.0h0.8M183.9 693.3h0.8M180.5 688.8h0.8M166.5 704.1h0.8M194.7 691.1h0.8M173.0 690.4h0.8M185.0 693.7h0.8M185.0 694.5h0.8M180.7 702.1h0.8M193.9 695.5h0.8M180.1 708.1h0.8M195.3 701.5h0.8M187.0 683.4h0.8M177.2 697.5h0.8M161.2 702.7h0.8M186.3 692.8h0.8M184.8 691.6h0.8M190.9 694.8h0.8M188.7 687.2h0.8M179.5 706.1h0.8M183.7 705.3h0.8M191.7 694.3h0.8M183.7 695.5h0.8M188.5 693.0h0.8M185.3 693.3h0.8M184.2 694.0h0.8M187.4 695.4h0.8M190.1 674.4h0.8M185.4 692.2h0.8M186.1 694.2h0.8M188.6 688.2h0.8M186.2 705.0h0.8M189.6 688.0h0.8M192.0 693.6h0.8M201.9 691.8h0.8M188.2 684.4h0.8M167.7 684.3h0.8M186.5 692.8h0.8M201.2 689.9h0.8M186.4 702.4h0.8M176.6 709.3h0.8M211.8 703.6h0.8M159.7 703.9h0.8M156.4 694.2h0.8M179.2 675.8h0.8M183.7 695.5h0.8M184.5 693.8h0.8M198.6 682.5h0.8M181.0 703.1h0.8M171.3 687.0h0.8M181.5 695.7h0.8M186.5 694.5h0.8M184.0 695.8h0.8M184.5 691.1h0.8M184.3 688.0h0.8M184.1 688.6h0.8M187.8 688.4h0.8M179.8 691.4h0.8M184.4 694.0h0.8M189.3 688.9h0.8M180.7 689.0h0.8M184.7 696.2h0.8M175.9 693.0h0.8M181.6 692.7h0.8M172.4 694.9h0.8M179.7 687.6h0.8M182.9 692.3h0.8M195.7 693.5h0.8M186.6 693.3h0.8M189.4 697.0h0.8M185.6 696.6h0.8M190.1 694.1h0.8M176.1 693.8h0.8M184.7 693.7h0.8M187.5 701.6h0.8M185.0 693.6h0.8M180.8 701.4h0.8M182.5 698.2h0.8M194.7 694.6h0.8M168.9 694.2h0.8M187.6 693.5h0.8M161.3 699.7h0.8M187.9 702.9h0.8M200.8 708.0h0.8M179.7 693.5h0.8M184.1 695.4h0.8M179.5 688.7h0.8M174.6 684.2h0.8M183.6 694.7h0.8M185.5 692.8h0.8M187.5 690.8h0.8M185.3 691.1h0.8M187.1 697.2h0.8M189.0 688.9h0.8M187.4 688.7h0.8M194.0 689.9h0.8M184.0 708.1h0.8M185.8 700.8h0.8M172.8 704.2h0.8M189.8 704.0h0.8M186.9 695.6h0.8M174.5 681.8h0.8M173.5 691.8h0.8M188.8 707.6h0.8M180.9 692.6h0.8M189.5 699.2h0.8M197.5 699.7h0.8M174.2 678.2h0.8M187.5 695.0h0.8M170.2 690.8h0.8M197.2 695.5h0.8M178.3 688.8h0.8M186.1 694.1h0.8M177.9 689.2h0.8M170.3 690.9h0.8M166.4 707.1h0.8M166.1 702.9h0.8M190.5 693.1h0.8M187.2 676.8h0.8M182.2 690.3h0.8M203.5 688.9h0.8M185.7 696.8h0.8M178.0 690.4h0.8M185.6 690.6h0.8M185.6 696.6h0.8M173.4 698.9h0.8M183.5 688.5h0.8M219.3 693.3h0.8M185.5 692.2h0.8M168.0 694.0h0.8M194.5 689.9h0.8M188.5 694.0h0.8M175.5 695.2h0.8M186.6 694.7h0.8M178.7 694.1h0.8M182.2 694.5h0.8M176.8 704.5h0.8M185.0 693.5h0.8M194.8 703.8h0.8M186.7 693.2h0.8M183.8 699.1h0.8M184.6 685.8h0.8M184.7 693.5h0.8M185.8 694.3h0.8M187.1 700.7h0.8M178.6 698.8h0.8M198.6 690.7h0.8M190.5 692.3h0.8M173.8 680.3h0.8M178.9 703.4h0.8M198.4 696.4h0.8M181.7 691.7h0.8M185.3 693.6h0.8M178.1 685.2h0.8M183.0 702.4h0.8M184.1 698.6h0.8M186.2 692.6h0.8M176.0 694.2h0.8M190.9 692.8h0.8M186.5 688.7h0.8M200.4 701.0h0.8M182.6 684.0h0.8M189.8 677.1h0.8M174.9 705.6h0.8M194.4 672.7h0.8M180.8 694.1h0.8M184.6 701.0h0.8M195.4 696.7h0.8M190.4 702.1h0.8M191.9 685.8h0.8M192.5 703.4h0.8M186.2 694.5h0.8M183.6 708.9h0.8M176.3 693.0h0.8M170.9 682.5h0.8M166.9 681.9h0.8M189.5 694.9h0.8M185.3 698.2h0.8M194.9 704.4h0.8M183.9 693.8h0.8M173.6 695.6h0.8M171.2 690.4h0.8M180.1 705.6h0.8M205.8 683.0h0.8M195.3 692.6h0.8M180.4 694.9h0.8M185.0 694.4h0.8M201.1 711.6h0.8M161.4 692.6h0.8M180.3 694.9h0.8M195.6 701.3h0.8M185.8 690.0h0.8M187.4 698.9h0.8M217.6 695.8h0.8M172.9 683.8h0.8M175.4 698.2h0.8M188.5 691.8h0.8M188.3 715.4h0.8M188.7 694.6h0.8M183.2 694.9h0.8M196.0 691.6h0.8M199.1 696.4h0.8M180.0 693.0h0.8M183.9 692.9h0.8M175.4 696.7h0.8M178.1 676.5h0.8M187.2 695.4h0.8M184.8 695.7h0.8M165.6 672.2h0.8M188.9 689.2h0.8M188.6 696.9h0.8M166.5 696.6h0.8M189.7 693.4h0.8M185.7 696.6h0.8M193.5 702.0h0.8M191.4 685.9h0.8M215.7 695.4h0.8M184.9 695.3h0.8M184.7 697.0h0.8M186.1 689.7h0.8M196.6 685.1h0.8M191.0 693.7h0.8M173.3 684.7h0.8M172.1 692.2h0.8M187.2 695.3h0.8M199.5 701.0h0.8M185.1 693.6h0.8M165.4 687.9h0.8M175.8 704.5h0.8M185.2 696.7h0.8M178.8 690.9h0.8M177.0 696.8h0.8M170.5 686.2h0.8M185.6 694.6h0.8M180.1 690.9h0.8M182.3 682.7h0.8M194.9 694.7h0.8M184.6 693.2h0.8M191.8 679.9h0.8M184.2 696.6h0.8M184.5 706.9h0.8M185.1 694.3h0.8M186.0 683.3h0.8M185.0 693.5h0.8M196.5 675.5h0.8M185.2 708.4h0.8M186.6 694.2h0.8M186.2 692.1h0.8M182.2 688.0h0.8M180.7 684.3h0.8M192.2 704.2h0.8M178.6 680.4h0.8M179.5 690.4h0.8M184.8 698.1h0.8M194.4 695.3h0.8M195.3 688.5h0.8M174.4 689.9h0.8M178.7 692.8h0.8M179.9 718.0h0.8M179.0 693.9h0.8M189.6 693.6h0.8M180.7 689.5h0.8M159.0 692.1h0.8M185.3 689.7h0.8M200.0 702.2h0.8M182.2 691.6h0.8M183.2 691.1h0.8M185.0 693.5h0.8M186.4 691.2h0.8M186.5 694.9h0.8M190.5 690.0h0.8M184.5 691.7h0.8M194.8 688.8h0.8M189.4 682.5h0.8M202.4 703.6h0.8M182.4 697.3h0.8M192.4 702.4h0.8M198.4 694.1h0.8M209.6 703.4h0.8M177.6 687.1h0.8M193.5 685.6h0.8M188.8 701.5h0.8M181.3 699.8h0.8M194.9 696.3h0.8M176.6 681.5h0.8M187.2 674.8h0.8M193.7 697.7h0.8M194.7 689.6h0.8M169.4 694.2h0.8M189.1 700.9h0.8M208.9 691.2h0.8M179.0 693.8h0.8M180.6 701.5h0.8M170.1 697.1h0.8M182.4 708.5h0.8M186.2 701.7h0.8M194.2 706.8h0.8M186.5 694.2h0.8M183.8 701.9h0.8M185.2 692.0h0.8M181.1 703.7h0.8M189.6 688.8h0.8M187.9 677.5h0.8M181.1 690.0h0.8M177.9 694.3h0.8M189.9 703.9h0.8M182.7 687.4h0.8M189.3 688.0h0.8M168.6 686.4h0.8M183.7 693.6h0.8M183.3 695.0h0.8M184.5 694.1h0.8M209.3 699.4h0.8M184.6 693.0h0.8M188.1 698.1h0.8M187.5 686.9h0.8M176.3 682.0h0.8M183.7 704.4h0.8M194.4 678.2h0.8M187.7 689.4h0.8M184.7 702.3h0.8M190.1 696.1h0.8M188.7 690.0h0.8M173.2 690.2h0.8M192.1 687.1h0.8M183.2 689.5h0.8M176.3 691.7h0.8M185.0 693.6h0.8M178.0 681.3h0.8M203.6 681.0h0.8M187.3 693.1h0.8M195.8 701.4h0.8M177.3 702.4h0.8M190.9 691.9h0.8M185.5 687.8h0.8M191.3 690.7h0.8M197.0 697.4h0.8M202.0 701.0h0.8M191.6 691.5h0.8M176.9 697.4h0.8M167.3 679.8h0.8M188.1 691.2h0.8M175.8 710.3h0.8M184.3 692.7h0.8M182.7 690.3h0.8M186.7 692.3h0.8M165.0 715.4h0.8M186.8 698.2h0.8M176.0 683.8h0.8M184.6 688.2h0.8M186.0 695.0h0.8M198.9 668.0h0.8M189.4 677.6h0.8M179.3 691.8h0.8M187.5 688.7h0.8M177.6 680.9h0.8M187.3 698.1h0.8M190.5 687.1h0.8M186.8 684.9h0.8M218.1 705.8h0.8M187.0 694.3h0.8M188.9 692.3h0.8M174.1 706.2h0.8M170.7 690.7h0.8M176.9 685.3h0.8M189.5 692.3h0.8M182.8 705.6h0.8M186.3 695.0h0.8M197.5 709.0h0.8M184.2 693.8h0.8M190.4 695.5h0.8M186.9 691.9h0.8M188.7 694.5h0.8M184.7 698.4h0.8M184.6 693.7h0.8M174.3 699.2h0.8M177.4 698.6h0.8M186.2 693.2h0.8M188.6 702.1h0.8M178.6 701.7h0.8M182.0 677.8h0.8M182.2 696.5h0.8M188.4 691.9h0.8M180.2 703.6h0.8M181.8 692.8h0.8M170.7 701.9h0.8M184.1 690.5h0.8M173.5 689.4h0.8M183.6 687.0h0.8M193.5 698.4h0.8M188.4 696.2h0.8M187.4 698.6h0.8M177.9 682.5h0.8M187.1 713.5h0.8M185.1 696.0h0.8M182.6 688.4h0.8M184.8 693.4h0.8M175.6 675.7h0.8M173.2 698.9h0.8M175.2 697.1h0.8M200.4 703.0h0.8M170.4 707.7h0.8M174.2 681.2h0.8M191.9 686.0h0.8M178.3 700.0h0.8M184.9 702.9h0.8M188.0 704.6h0.8M172.4 692.8h0.8M206.9 687.6h0.8M190.1 691.7h0.8M188.2 688.7h0.8M185.9 693.4h0.8M193.4 685.4h0.8M175.2 697.4h0.8M177.1 697.3h0.8M183.2 704.3h0.8M192.4 700.3h0.8M192.8 686.2h0.8M182.8 701.0h0.8M187.1 689.9h0.8M187.2 701.6h0.8M179.6 703.4h0.8M197.2 699.9h0.8M185.5 692.5h0.8M186.1 697.0h0.8M187.9 685.4h0.8M185.2 695.3h0.8M186.9 694.5h0.8M183.5 688.3h0.8M184.9 693.5h0.8M195.6 689.6h0.8M176.9 697.7h0.8M162.1 692.8h0.8M179.4 690.6h0.8M184.1 694.7h0.8M191.6 690.7h0.8M191.1 684.5h0.8M174.8 690.2h0.8M190.6 710.1h0.8M187.0 696.6h0.8M182.8 692.6h0.8M185.1 693.7h0.8M169.7 672.5h0.8M172.7 675.0h0.8M156.4 689.7h0.8M182.6 693.7h0.8M198.2 677.9h0.8M179.4 694.3h0.8M185.8 697.0h0.8M182.8 692.3h0.8M185.4 695.5h0.8M182.5 687.5h0.8M180.0 689.2h0.8M177.3 718.5h0.8M177.0 676.6h0.8M191.7 681.1h0.8M185.6 686.6h0.8M189.4 690.8h0.8M194.7 691.7h0.8M186.4 690.7h0.8M180.2 684.0h0.8M168.2 698.2h0.8M181.3 696.3h0.8M169.4 689.7h0.8M186.3 692.2h0.8M184.6 693.6h0.8M187.2 695.0h0.8M188.1 690.8h0.8M187.0 705.5h0.8M178.7 681.2h0.8M174.8 699.6h0.8M192.9 691.0h0.8M172.6 692.9h0.8M182.3 695.1h0.8M180.0 681.6h0.8M195.3 688.8h0.8M185.7 683.7h0.8M187.3 695.1h0.8M204.2 705.5h0.8M188.9 689.4h0.8M185.0 693.6h0.8M164.3 696.0h0.8M187.5 690.5h0.8M175.5 692.7h0.8M183.7 684.8h0.8M187.1 691.3h0.8M179.4 697.8h0.8M181.1 693.9h0.8M182.0 683.5h0.8M172.1 694.0h0.8M194.2 694.2h0.8M182.9 692.9h0.8M186.1 693.2h0.8M186.1 697.2h0.8M189.7 699.9h0.8M195.8 696.3h0.8M184.0 700.2h0.8M184.8 693.9h0.8M191.5 689.3h0.8M182.7 691.9h0.8M197.5 703.7h0.8M186.8 694.5h0.8M178.4 691.5h0.8M171.8 682.3h0.8M189.8 690.6h0.8M186.8 697.5h0.8M184.6 692.1h0.8M181.7 695.3h0.8M180.3 714.7h0.8M180.6 691.8h0.8M185.0 692.7h0.8M178.2 687.5h0.8M175.1 702.9h0.8M183.9 691.6h0.8M186.8 696.5h0.8M182.8 698.6h0.8M191.4 685.1h0.8M186.0 693.2h0.8M192.2 695.1h0.8M187.1 693.9h0.8M185.8 683.9h0.8M201.3 694.2h0.8M187.2 695.5h0.8M181.3 694.1h0.8M184.5 694.3h0.8M198.1 690.8h0.8M191.8 683.8h0.8M202.8 680.3h0.8M178.6 690.9h0.8M184.5 694.5h0.8M186.0 698.4h0.8M178.3 706.2h0.8M187.1 675.3h0.8M193.2 698.2h0.8M194.3 680.9h0.8M185.1 694.2h0.8M179.9 679.8h0.8M176.2 688.6h0.8M188.8 697.9h0.8M203.1 695.2h0.8M173.2 681.3h0.8M182.6 697.8h0.8M166.3 696.1h0.8M187.5 694.7h0.8M184.1 693.4h0.8M184.1 708.0h0.8M185.8 696.1h0.8M169.1 710.9h0.8M185.6 693.0h0.8M176.5 690.6h0.8M199.8 694.3h0.8M190.1 697.6h0.8M168.0 691.6h0.8M184.9 694.0h0.8M187.7 691.9h0.8M186.3 690.8h0.8M189.5 689.7h0.8M195.9 681.0h0.8M199.6 680.8h0.8M185.1 702.4h0.8M186.6 689.0h0.8M194.7 687.0h0.8M194.5 667.5h0.8M184.1 693.1h0.8M184.5 688.2h0.8M174.8 693.6h0.8M183.1 693.4h0.8M189.9 686.6h0.8M188.2 689.0h0.8M168.4 692.5h0.8M184.4 693.2h0.8M183.9 693.9h0.8M188.5 692.9h0.8M196.0 699.0h0.8M185.0 694.8h0.8M185.8 691.1h0.8M186.8 688.1h0.8M190.9 690.9h0.8M166.4 711.9h0.8M176.7 691.2h0.8M184.6 692.8h0.8M184.9 694.2h0.8M188.1 695.8h0.8M192.5 691.6h0.8M182.2 688.0h0.8M178.0 708.1h0.8M166.0 690.4h0.8M187.3 684.3h0.8M181.7 691.7h0.8M191.8 700.2h0.8M184.6 694.3h0.8M194.8 704.0h0.8M185.1 695.3h0.8M185.3 693.6h0.8M169.7 698.2h0.8M197.4 705.9h0.8M185.0 690.9h0.8M175.7 691.1h0.8M193.4 693.1h0.8M192.6 692.4h0.8M184.4 702.5h0.8M182.6 694.7h0.8M179.5 705.5h0.8M177.8 676.4h0.8M192.6 709.4h0.8M183.9 693.5h0.8M192.1 684.2h0.8M187.2 684.5h0.8M185.3 691.7h0.8M181.4 694.0h0.8M183.9 702.0h0.8M178.0 695.4h0.8M165.0 688.9h0.8M182.4 705.4h0.8M184.7 695.6h0.8M188.0 689.5h0.8M191.7 690.0h0.8M191.4 689.3h0.8M208.4 667.9h0.8M183.4 697.9h0.8M185.0 693.5h0.8M198.5 694.7h0.8M184.6 709.8h0.8M186.7 695.8h0.8M186.7 695.1h0.8M188.2 696.4h0.8M190.8 697.7h0.8M206.7 699.2h0.8M188.1 685.2h0.8M180.7 706.0h0.8M186.3 690.8h0.8M186.7 693.0h0.8M188.0 709.0h0.8M194.4 696.2h0.8M188.2 695.6h0.8M182.4 689.3h0.8M184.3 692.2h0.8M188.1 705.5h0.8M193.3 685.2h0.8M175.7 685.0h0.8M199.0 698.9h0.8M171.9 692.3h0.8M168.8 683.6h0.8M184.1 693.3h0.8M183.6 700.9h0.8M185.8 693.5h0.8M172.5 691.9h0.8M188.4 705.7h0.8M171.9 692.9h0.8M177.7 695.3h0.8M176.0 693.0h0.8M163.1 691.4h0.8M185.5 691.2h0.8M184.7 698.5h0.8M181.8 700.6h0.8M182.1 703.2h0.8M186.1 693.5h0.8M181.6 683.5h0.8M192.8 689.7h0.8M198.2 690.2h0.8M174.4 703.5h0.8M178.8 705.9h0.8M187.5 696.6h0.8M178.4 702.1h0.8M181.8 694.2h0.8M205.9 682.0h0.8M185.5 688.8h0.8M194.9 693.9h0.8M186.2 697.0h0.8M179.0 694.4h0.8M189.6 698.2h0.8M185.2 702.7h0.8M184.5 692.5h0.8M186.2 691.7h0.8M185.2 686.9h0.8M184.4 699.8h0.8M179.0 677.2h0.8M171.4 674.9h0.8M176.5 691.0h0.8M182.4 694.8h0.8M194.4 692.4h0.8M195.7 698.9h0.8M185.4 693.4h0.8M184.9 673.5h0.8M185.1 693.7h0.8M181.9 692.5h0.8M187.3 694.7h0.8M190.8 690.5h0.8M186.7 687.2h0.8M201.1 717.4h0.8M194.7 704.7h0.8M196.5 701.3h0.8M189.8 675.2h0.8M182.1 698.1h0.8M199.5 697.2h0.8M174.3 693.1h0.8M185.3 690.7h0.8M187.1 701.6h0.8M186.1 692.0h0.8M184.0 687.5h0.8M193.4 695.5h0.8M185.2 691.7h0.8M184.4 690.6h0.8M191.7 695.3h0.8M184.7 693.1h0.8M185.8 692.3h0.8M192.2 688.4h0.8M178.8 685.3h0.8M192.3 690.0h0.8M186.3 682.9h0.8M170.9 694.4h0.8M182.5 695.0h0.8M181.7 698.7h0.8M183.1 697.9h0.8M184.8 684.4h0.8M189.7 686.9h0.8M198.3 706.2h0.8M185.4 691.7h0.8M174.0 702.4h0.8M165.3 678.2h0.8M183.2 691.0h0.8M180.8 691.6h0.8M174.2 700.5h0.8M185.4 683.2h0.8M184.9 693.5h0.8M191.2 693.4h0.8M179.7 690.7h0.8M188.6 695.7h0.8M184.3 691.2h0.8M184.5 709.5h0.8M183.1 693.6h0.8M198.8 685.1h0.8M185.2 693.6h0.8M183.7 692.3h0.8M174.5 691.3h0.8M182.3 689.1h0.8M193.2 685.0h0.8M186.8 687.7h0.8M200.8 707.0h0.8M175.7 707.0h0.8M186.3 698.0h0.8M179.4 696.5h0.8M181.4 681.1h0.8M190.4 691.9h0.8M184.9 693.5h0.8M184.9 693.6h0.8M199.0 695.4h0.8M196.6 703.2h0.8M180.7 706.0h0.8M187.2 693.9h0.8M189.0 696.7h0.8M193.8 699.0h0.8M153.9 697.5h0.8M215.9 702.6h0.8M190.5 704.7h0.8M191.4 692.0h0.8M186.9 683.3h0.8M179.2 700.4h0.8M189.1 692.9h0.8M184.4 707.8h0.8M174.8 697.6h0.8M183.3 692.8h0.8M210.1 708.6h0.8M172.0 702.6h0.8M184.5 693.5h0.8M183.2 673.6h0.8M183.7 694.7h0.8M179.5 688.7h0.8M187.5 693.7h0.8M181.0 698.6h0.8M183.3 671.4h0.8M187.6 695.1h0.8M199.3 689.1h0.8M187.7 689.5h0.8M205.0 686.1h0.8M192.1 695.0h0.8M187.3 682.4h0.8M194.4 705.7h0.8M198.5 700.9h0.8M184.1 691.5h0.8M196.9 717.1h0.8M184.8 705.4h0.8M192.1 679.2h0.8M181.1 695.0h0.8M179.9 696.2h0.8M186.1 694.0h0.8M182.9 704.1h0.8M170.8 709.3h0.8M201.1 678.3h0.8M192.6 688.1h0.8M183.0 686.0h0.8M182.5 692.5h0.8M184.4 694.9h0.8M183.0 691.3h0.8M178.3 703.6h0.8M191.9 692.8h0.8M203.0 692.8h0.8M206.7 687.6h0.8M178.1 692.4h0.8M185.7 690.8h0.8M183.0 693.7h0.8M166.5 676.3h0.8M183.0 688.3h0.8M183.2 693.9h0.8M197.6 698.5h0.8M163.6 712.5h0.8M187.5 696.1h0.8M183.7 692.5h0.8M185.5 696.6h0.8M199.3 686.6h0.8M188.3 693.8h0.8M170.2 694.7h0.8M175.6 698.3h0.8M184.3 693.4h0.8M179.6 702.1h0.8M185.2 693.2h0.8M186.4 690.2h0.8M172.1 693.5h0.8M188.4 688.7h0.8M190.5 693.9h0.8M157.5 694.9h0.8M192.5 690.2h0.8M180.5 696.4h0.8M185.0 693.4h0.8M173.5 692.2h0.8M204.7 698.6h0.8M188.6 697.6h0.8M184.7 696.0h0.8M194.1 689.4h0.8M185.7 693.6h0.8M190.7 685.8h0.8M193.8 699.8h0.8M206.0 690.2h0.8M189.3 682.3h0.8M185.8 697.3h0.8M185.6 694.0h0.8M168.3 685.4h0.8M185.6 694.2h0.8M188.7 691.7h0.8M185.8 666.1h0.8M190.0 692.8h0.8M185.1 693.7h0.8M179.8 688.4h0.8M168.7 683.0h0.8M182.8 693.1h0.8M179.6 705.5h0.8M208.3 700.7h0.8M172.9 694.5h0.8M171.7 699.3h0.8M192.5 682.2h0.8M162.7 681.9h0.8M168.1 682.5h0.8M183.3 696.2h0.8M187.9 695.6h0.8M186.8 692.6h0.8M198.5 687.8h0.8M166.4 679.4h0.8M184.8 687.1h0.8M189.1 695.6h0.8M184.8 688.1h0.8M183.3 692.9h0.8M184.8 695.2h0.8M167.7 678.4h0.8M184.9 688.7h0.8M174.3 696.7h0.8M173.6 698.4h0.8M196.7 683.7h0.8M184.4 695.2h0.8M192.8 693.9h0.8M184.3 692.0h0.8M195.1 693.2h0.8M183.4 685.7h0.8M194.7 679.7h0.8M191.6 701.2h0.8M184.0 699.6h0.8M175.0 702.6h0.8M184.3 695.8h0.8M196.6 697.9h0.8M180.5 681.5h0.8M183.9 694.3h0.8M186.2 694.7h0.8M198.1 694.9h0.8M185.7 697.9h0.8M181.9 693.0h0.8M185.1 693.5h0.8M196.5 684.0h0.8M177.9 693.2h0.8M176.4 691.5h0.8M197.9 688.7h0.8M182.9 689.2h0.8M186.3 691.0h0.8M177.4 708.9h0.8M194.5 691.6h0.8M185.4 683.2h0.8M186.8 685.2h0.8M198.5 698.4h0.8M184.3 690.1h0.8M176.9 705.2h0.8M176.5 701.0h0.8M181.2 685.7h0.8M178.8 692.5h0.8M180.2 694.0h0.8M183.3 700.7h0.8M182.0 695.8h0.8M190.4 692.8h0.8M183.6 693.5h0.8M196.6 695.4h0.8M181.6 696.3h0.8M187.2 693.2h0.8M182.7 692.2h0.8M185.0 694.2h0.8M182.8 696.9h0.8M179.3 694.0h0.8M182.9 708.7h0.8M178.1 692.8h0.8M185.0 690.2h0.8M183.1 690.8h0.8M183.5 693.6h0.8M168.9 714.1h0.8M186.2 691.9h0.8M201.5 694.0h0.8M190.4 683.4h0.8M180.8 693.6h0.8M183.5 695.0h0.8M172.8 681.6h0.8M188.2 694.6h0.8M179.6 718.1h0.8M182.4 702.5h0.8M190.0 691.9h0.8M190.6 692.9h0.8M187.8 698.5h0.8M181.6 694.7h0.8M197.7 683.0h0.8M190.0 695.8h0.8M184.7 694.3h0.8M191.6 700.5h0.8M184.4 689.2h0.8M196.6 691.2h0.8M183.9 692.2h0.8M197.4 706.4h0.8M196.4 683.9h0.8M192.9 702.6h0.8M178.0 674.3h0.8M186.1 679.7h0.8M191.5 694.4h0.8M184.8 690.8h0.8M194.7 693.7h0.8" stroke="#333" stroke-width="0.8" fill="none"/>
<path d="M182.1 668.0h0.8M171.4 681.3h0.8M173.3 714.0h0.8M203.4 690.0h0.8M189.9 718.7h0.8M167.3 701.7h0.8M176.3 714.1h0.8M205.0 691.4h0.8M196.8 679.1h0.8M163.4 704.4h0.8M208.4 689.4h0.8M178.1 670.9h0.8M208.1 681.3h0.8M166.3 689.9h0.8M205.8 694.4h0.8M176.4 704.0h0.8M203.0 692.8h0.8M197.9 687.9h0.8M169.6 711.2h0.8M174.4 674.4h0.8M169.9 694.6h0.8M196.7 673.7h0.8M163.9 696.3h0.8M191.8 675.2h0.8M164.9 696.4h0.8M182.9 671.2h0.8M172.8 713.2h0.8M168.8 708.7h0.8M166.6 710.5h0.8M207.4 685.1h0.8M171.4 705.5h0.8M165.0 701.9h0.8M205.6 697.7h0.8M198.4 687.4h0.8M201.6 680.6h0.8M208.4 693.2h0.8M180.4 671.3h0.8M171.3 700.5h0.8M200.5 674.4h0.8M182.0 677.8h0.8M164.3 693.6h0.8M171.6 708.1h0.8M159.2 700.2h0.8M166.4 675.4h0.8M198.7 685.1h0.8M187.5 675.7h0.8M167.5 681.9h0.8M183.8 676.5h0.8M176.8 677.4h0.8M189.1 674.5h0.8M168.3 673.4h0.8M182.3 706.6h0.8M201.5 681.4h0.8M169.9 674.8h0.8M199.7 682.0h0.8M204.0 692.1h0.8M181.4 670.2h0.8M172.3 707.5h0.8M172.7 706.5h0.8M163.7 706.0h0.8M209.9 703.0h0.8M190.4 673.9h0.8M173.8 680.3h0.8M187.3 669.5h0.8M169.9 706.7h0.8M188.4 709.6h0.8M198.4 676.5h0.8M163.9 700.4h0.8M190.6 705.8h0.8M171.6 709.4h0.8M193.4 711.8h0.8M177.1 708.2h0.8M183.8 675.8h0.8M183.9 671.0h0.8M174.8 703.1h0.8M196.7 676.7h0.8M164.9 683.0h0.8M160.4 686.1h0.8M211.6 694.9h0.8M170.6 681.3h0.8M206.4 680.1h0.8M173.4 685.9h0.8M171.2 680.6h0.8M162.8 683.0h0.8M201.9 711.0h0.8M178.6 708.7h0.8M200.0 696.9h0.8M182.7 713.2h0.8M200.1 687.8h0.8M180.4 710.9h0.8M173.1 679.9h0.8M177.3 680.2h0.8M205.7 699.1h0.8M182.4 678.7h0.8M206.7 699.9h0.8M208.9 703.4h0.8M179.1 679.3h0.8M172.6 701.0h0.8M200.8 702.7h0.8M203.6 676.4h0.8M185.4 672.3h0.8M167.2 683.6h0.8M173.6 677.4h0.8M165.1 707.7h0.8M178.9 710.9h0.8M173.6 670.7h0.8M174.0 709.0h0.8M171.3 702.7h0.8M170.2 711.7h0.8M192.7 711.3h0.8M180.4 713.5h0.8M187.3 678.9h0.8M168.6 694.8h0.8M171.2 676.3h0.8M188.1 709.4h0.8M179.0 709.9h0.8M204.8 678.5h0.8M189.9 675.9h0.8M169.0 697.7h0.8M159.5 699.7h0.8M201.1 703.4h0.8M193.4 715.9h0.8M178.5 711.8h0.8M206.8 700.5h0.8M160.7 691.5h0.8M180.8 671.4h0.8M183.6 709.8h0.8M173.0 685.5h0.8M206.6 684.9h0.8M166.3 694.2h0.8M203.7 702.9h0.8M187.2 678.9h0.8M203.6 706.2h0.8M161.1 697.8h0.8M162.3 706.9h0.8M197.7 681.1h0.8M163.9 688.8h0.8M161.6 700.7h0.8M178.2 671.0h0.8M184.6 713.0h0.8M164.2 688.0h0.8M209.4 695.9h0.8M169.8 698.4h0.8M198.0 677.6h0.8M183.6 671.1h0.8M166.4 676.4h0.8M202.2 699.5h0.8M196.5 711.6h0.8M187.7 706.9h0.8M195.7 705.2h0.8M165.7 688.8h0.8M171.2 696.5h0.8M168.0 690.6h0.8M197.4 701.1h0.8M196.2 708.3h0.8M195.0 710.0h0.8M197.2 712.7h0.8M197.9 681.3h0.8M208.9 704.5h0.8M204.4 704.3h0.8M185.8 674.3h0.8M197.3 683.9h0.8M180.2 669.4h0.8M205.0 679.2h0.8M166.0 701.1h0.8M196.0 678.9h0.8M184.5 707.2h0.8M189.5 707.9h0.8M201.3 686.1h0.8M169.0 713.8h0.8M177.9 676.1h0.8M199.8 704.5h0.8M178.3 717.7h0.8M161.6 705.6h0.8M183.2 707.3h0.8M197.1 685.1h0.8M190.2 673.4h0.8M179.8 716.6h0.8M160.8 704.5h0.8M160.5 684.6h0.8M202.1 685.9h0.8M176.6 672.7h0.8M177.0 682.3h0.8M175.9 672.5h0.8M190.3 707.1h0.8M204.2 701.7h0.8M204.7 708.2h0.8M161.8 706.5h0.8M183.0 675.0h0.8M193.0 710.4h0.8M165.3 678.6h0.8M199.2 682.6h0.8M207.4 696.7h0.8M176.4 673.8h0.8M193.1 671.5h0.8M167.6 676.9h0.8M203.6 711.2h0.8M177.4 681.0h0.8M195.9 712.0h0.8M176.0 716.8h0.8M181.3 712.5h0.8M158.8 692.9h0.8M176.5 716.4h0.8M181.4 673.5h0.8M209.0 685.5h0.8M184.9 673.5h0.8M201.2 697.9h0.8M175.9 681.5h0.8M173.5 679.7h0.8M166.2 708.7h0.8M197.8 674.5h0.8M165.2 700.1h0.8M210.9 691.3h0.8M173.3 684.6h0.8M196.9 685.5h0.8M201.7 707.9h0.8M192.9 714.8h0.8M178.7 679.4h0.8M207.6 679.5h0.8M170.2 672.3h0.8M191.4 675.3h0.8M196.8 671.3h0.8M180.0 680.0h0.8M168.9 709.3h0.8M174.2 705.0h0.8M169.8 697.6h0.8M169.9 695.8h0.8M182.5 677.7h0.8M199.2 687.8h0.8M169.8 677.9h0.8M192.0 713.5h0.8M164.0 687.1h0.8M193.0 711.1h0.8M196.3 675.5h0.8M185.7 710.9h0.8M195.7 683.9h0.8M164.5 696.2h0.8M172.3 699.2h0.8M204.6 708.2h0.8M167.9 698.2h0.8M171.0 697.7h0.8M206.6 705.0h0.8M186.0 677.8h0.8M178.8 706.5h0.8M176.4 711.5h0.8M185.3 674.0h0.8M200.5 672.6h0.8M171.7 687.8h0.8M200.1 709.7h0.8M202.5 711.3h0.8M198.9 698.2h0.8M204.3 693.0h0.8M164.5 686.5h0.8M198.5 705.3h0.8M169.0 710.0h0.8M189.6 672.1h0.8M193.4 710.7h0.8M199.0 685.7h0.8M172.2 710.5h0.8M199.3 693.1h0.8M177.8 675.8h0.8M160.5 689.2h0.8M202.9 705.2h0.8M175.3 714.2h0.8M180.7 675.5h0.8M198.8 712.1h0.8M178.5 674.2h0.8M184.3 668.5h0.8M185.8 715.3h0.8M191.1 678.0h0.8M199.8 683.7h0.8M205.8 687.9h0.8M210.1 689.4h0.8M188.7 676.0h0.8M164.1 698.8h0.8M191.6 676.2h0.8M198.5 684.0h0.8M169.2 691.5h0.8M193.5 708.3h0.8M205.5 699.5h0.8M171.1 681.0h0.8M191.2 674.4h0.8M178.9 680.4h0.8M178.1 705.4h0.8M198.4 713.6h0.8M199.3 709.0h0.8M168.7 708.5h0.8M202.1 676.5h0.8M210.9 688.0h0.8M163.4 708.7h0.8M186.4 676.8h0.8M175.2 710.9h0.8M193.6 681.5h0.8M202.6 679.9h0.8M168.9 683.4h0.8M170.8 705.9h0.8M180.8 675.2h0.8M179.3 670.0h0.8M197.2 700.5h0.8M200.4 687.8h0.8M192.6 676.7h0.8M187.2 706.8h0.8M165.4 702.5h0.8M198.3 698.0h0.8M179.1 717.0h0.8M185.0 677.0h0.8M169.1 704.0h0.8M180.4 677.2h0.8M172.4 708.9h0.8M186.6 712.0h0.8M184.7 674.0h0.8M202.4 699.6h0.8M169.6 686.6h0.8M168.8 706.6h0.8M174.2 705.2h0.8M195.5 683.5h0.8M197.7 685.5h0.8M165.1 686.8h0.8M166.3 704.8h0.8M198.5 682.0h0.8M200.4 699.3h0.8M200.7 679.2h0.8M185.5 675.4h0.8M174.7 713.0h0.8M161.5 683.3h0.8M194.8 708.3h0.8M175.7 670.7h0.8M161.3 698.3h0.8M202.2 707.0h0.8M174.0 712.7h0.8M180.2 708.4h0.8M182.2 715.6h0.8M178.9 669.6h0.8M172.3 700.8h0.8M191.2 678.1h0.8M180.9 674.6h0.8M171.5 698.2h0.8M188.4 715.8h0.8M160.3 699.6h0.8M192.3 674.9h0.8M199.0 692.1h0.8M168.0 705.1h0.8M208.9 701.5h0.8M197.7 710.0h0.8M182.5 711.4h0.8M167.7 697.1h0.8M195.8 712.5h0.8M174.4 683.3h0.8M200.2 691.0h0.8M188.0 710.0h0.8" stroke="#555" stroke-width="0.8" fill="none"/>
<rect x="237.6" y="660" width="2" height="62" fill="#c2c2c2"/>
<text x="150" y="300" font-size="18" font-weight="bold" transform="matrix(1.0833 0 0 0.9769 -161.28 -279.23)">A</text>
<text x="150" y="300" font-size="12" font-weight="bold" transform="matrix(1.0273 0 0 1.0739 -141.79 -196.26) rotate(-90 150 300)">Colonies /1×10<tspan font-size="7" dy="-5.80">4</tspan></text>
<text x="150" y="300" font-size="12" font-weight="bold" transform="matrix(0.9778 0 0 1.0558 -120.07 -192.95) rotate(-90 150 300)">total BM cells</text>
<text x="150" y="300" font-size="10.5" font-weight="normal" stroke="#000" stroke-width="0.45" transform="matrix(1.1542 0 0 1.1625 -139.38 -316.85)">80</text>
<text x="150" y="300" font-size="10.5" font-weight="normal" stroke="#000" stroke-width="0.45" transform="matrix(1.1542 0 0 1.1625 -139.38 -288.85)">60</text>
<text x="150" y="300" font-size="10.5" font-weight="normal" stroke="#000" stroke-width="0.45" transform="matrix(1.1542 0 0 1.1625 -139.38 -260.85)">40</text>
<text x="150" y="300" font-size="10.5" font-weight="normal" stroke="#000" stroke-width="0.45" transform="matrix(1.1917 0 0 1.1625 -144.95 -232.95)">20</text>
<text x="150" y="300" font-size="10.5" font-weight="normal" stroke="#000" stroke-width="0.45" transform="matrix(1.0333 0 0 1.1000 -118.50 -186.20)">0</text>
<text x="150" y="300" font-size="13" font-weight="bold" transform="matrix(1.0400 0 0 1.0600 -66.10 -287.66)">*</text>
<text x="150" y="300" font-size="12.5" font-weight="bold" transform="matrix(0.9907 0 0 0.9875 -8.36 -247.46)">wild-type</text>
<text x="150" y="300" font-size="12.5" font-weight="bold" transform="matrix(1.0931 0 0 1.2222 -24.56 -300.17)">FLT3<tspan font-size="7.8" dy="-3.10" stroke="#000" stroke-width="0.35">wt/ITD</tspan></text>
<text x="150" y="300" font-size="12" font-weight="bold" transform="matrix(1.0596 0 0 0.9444 -89.24 -124.43)">CFU-GM</text>
<text x="150" y="300" font-size="12" font-weight="bold" transform="matrix(1.1229 0 0 0.9444 -39.15 -124.43)">BFU-E</text>
<text x="150" y="300" font-size="12" font-weight="bold" transform="matrix(1.0646 0 0 0.9556 21.21 -127.67)">CFU-GEMM</text>
<text x="150" y="300" font-size="18" font-weight="bold" transform="matrix(1.0000 0 0 0.9231 125.20 -263.92)">B</text>
<text x="150" y="300" font-size="12" font-weight="bold" transform="matrix(1.0889 0 0 1.0488 120.67 -185.84) rotate(-90 150 300)">Colonies /1000</text>
<text x="150" y="300" font-size="12" font-weight="bold" transform="matrix(1.2222 0 0 1.0952 115.97 -198.68) rotate(-90 150 300)">Lin<tspan font-size="7" dy="-3.85">-/low</tspan><tspan dy="3.85"> BM cells</tspan></text>
<text x="150" y="300" font-size="10.5" font-weight="normal" stroke="#000" stroke-width="0.45" transform="matrix(1.1000 0 0 1.0250 132.80 -275.90)">100</text>
<text x="150" y="300" font-size="10.5" font-weight="normal" stroke="#000" stroke-width="0.45" transform="matrix(1.1417 0 0 1.1500 132.65 -290.70)">80</text>
<text x="150" y="300" font-size="10.5" font-weight="normal" stroke="#000" stroke-width="0.45" transform="matrix(1.0917 0 0 1.1000 140.35 -253.00)">60</text>
<text x="150" y="300" font-size="10.5" font-weight="normal" stroke="#000" stroke-width="0.45" transform="matrix(1.0917 0 0 1.0875 140.35 -227.65)">40</text>
<text x="150" y="300" font-size="10.5" font-weight="normal" stroke="#000" stroke-width="0.45" transform="matrix(1.0917 0 0 1.1000 140.35 -209.10)">20</text>
<text x="150" y="300" font-size="10.5" font-weight="normal" stroke="#000" stroke-width="0.45" transform="matrix(1.1667 0 0 1.0500 135.20 -171.60)">0</text>
<text x="150" y="300" font-size="12.5" font-weight="bold" transform="matrix(1.0093 0 0 0.9375 249.86 -244.06)">wild-type</text>
<text x="150" y="300" font-size="12.5" font-weight="bold" transform="matrix(1.0804 0 0 1.0778 238.46 -267.43)">FLT3<tspan font-size="7.8" dy="-3.10" stroke="#000" stroke-width="0.35">wt/ITD</tspan></text>
<text x="150" y="300" font-size="12" font-weight="bold" transform="matrix(1.0638 0 0 0.9111 178.13 -118.43)">CFU-GM</text>
<text x="150" y="300" font-size="12" font-weight="bold" transform="matrix(1.1200 0 0 0.9111 234.28 -118.43)">BFU-E</text>
<text x="150" y="300" font-size="12" font-weight="bold" transform="matrix(1.0569 0 0 0.9111 292.26 -118.43)">CFU-GEMM</text>
<text x="150" y="300" font-size="18" font-weight="bold" transform="matrix(1.0000 0 0 1.0231 -149.00 -115.02)">C</text>
<text x="150" y="300" font-size="12" font-weight="bold" transform="matrix(1.1000 0 0 1.0452 -152.80 -5.57) rotate(-90 150 300)">CFU-GM / 2000</text>
<text x="150" y="300" font-size="12" font-weight="bold" transform="matrix(1.0667 0 0 1.0364 -131.80 -2.91) rotate(-90 150 300)">cultured cells</text>
<text x="150" y="300" font-size="11" font-weight="normal" stroke="#000" stroke-width="0.45" transform="matrix(1.1333 0 0 1.1625 -137.70 -125.25)">80</text>
<text x="150" y="300" font-size="11" font-weight="normal" stroke="#000" stroke-width="0.45" transform="matrix(1.1333 0 0 1.1500 -137.70 -94.60)">60</text>
<text x="150" y="300" font-size="11" font-weight="normal" stroke="#000" stroke-width="0.45" transform="matrix(1.1167 0 0 1.0250 -134.80 -30.00)">40</text>
<text x="150" y="300" font-size="11" font-weight="normal" stroke="#000" stroke-width="0.45" transform="matrix(1.1167 0 0 1.0250 -134.80 -3.70)">20</text>
<text x="150" y="300" font-size="11" font-weight="normal" stroke="#000" stroke-width="0.45" transform="matrix(1.0333 0 0 1.0250 -116.60 22.60)">0</text>
<text x="150" y="300" font-size="12.5" font-weight="bold" transform="matrix(1.0028 0 0 0.9333 14.83 -54.60)">wild-type</text>
<text x="150" y="300" font-size="12.5" font-weight="bold" transform="matrix(1.0882 0 0 1.0444 0.88 -65.93)">FLT3<tspan font-size="7.8" dy="-3.10" stroke="#000" stroke-width="0.35">wt/ITD</tspan></text>
<text x="150" y="300" font-size="12" font-weight="bold" transform="matrix(1.1095 0 0 1.0111 -69.13 41.57)">2nd</text>
<text x="150" y="300" font-size="12" font-weight="bold" transform="matrix(1.1765 0 0 1.0111 17.55 41.57)">3rd</text>
<text x="150" y="300" font-size="18" font-weight="bold" transform="matrix(0.9800 0 0 1.0000 127.52 -108.10)">E</text>
<text x="150" y="300" font-size="12.5" font-weight="bold" transform="matrix(1.0778 0 0 1.0164 121.03 -6.33) rotate(-90 150 300)">Viable cells</text>
<text x="150" y="300" font-size="12" font-weight="bold" transform="matrix(0.9250 0 0 1.1173 158.27 -35.48) rotate(-90 150 300)">(<tspan dx="1" font-size="15" font-weight="normal">×</tspan><tspan dx="1">10</tspan><tspan font-size="7" dy="-4.50">4</tspan><tspan dy="4.5">/ml)</tspan></text>
<text x="150" y="300" font-size="11.5" font-weight="normal" stroke="#000" stroke-width="0.45" transform="matrix(1.1000 0 0 1.1125 143.40 -119.05)">15</text>
<text x="150" y="300" font-size="11.5" font-weight="normal" stroke="#000" stroke-width="0.45" transform="matrix(1.1250 0 0 1.1125 139.62 -83.25)">10</text>
<text x="150" y="300" font-size="11.5" font-weight="normal" stroke="#000" stroke-width="0.45" transform="matrix(1.2833 0 0 1.0000 122.10 -16.60)">5</text>
<text x="150" y="300" font-size="11.5" font-weight="normal" stroke="#000" stroke-width="0.45" transform="matrix(1.2833 0 0 1.0500 122.10 4.20)">0</text>
<text x="150" y="300" font-size="11" font-weight="bold" transform="matrix(1.1667 0 0 0.9875 153.00 38.65)">0</text>
<text x="150" y="300" font-size="11" font-weight="bold" transform="matrix(1.2833 0 0 0.9875 181.00 38.65)">2</text>
<text x="150" y="300" font-size="11" font-weight="bold" transform="matrix(1.2667 0 0 1.0125 228.20 31.05)">4</text>
<text x="150" y="300" font-size="11" font-weight="bold" transform="matrix(1.2500 0 0 1.0125 276.00 31.05)">6</text>
<text x="150" y="300" font-size="11" font-weight="bold" transform="matrix(1.2167 0 0 1.0125 326.20 31.05)">8</text>
<text x="150" y="300" font-size="12" font-weight="bold" transform="matrix(1.0412 0 0 0.8583 233.22 91.72)">Time (week)</text>
<text x="150" y="300" font-size="12.5" font-weight="bold" transform="matrix(1.0065 0 0 0.9375 217.43 -69.81)">wild-type</text>
<text x="150" y="300" font-size="12.5" font-weight="bold" transform="matrix(1.0725 0 0 1.0889 207.25 -91.27)">FLT3<tspan font-size="7.8" dy="-3.10" stroke="#000" stroke-width="0.35">wt/ITD</tspan></text>
<text x="150" y="300" font-size="18" font-weight="bold" transform="matrix(1.0000 0 0 0.9769 -149.60 84.22)">D</text>
<text x="150" y="300" font-size="12.5" font-weight="bold" transform="matrix(1.0065 0 0 0.9083 -108.57 127.28)">wild-type</text>
<text x="150" y="300" font-size="12.5" font-weight="bold" transform="matrix(1.0941 0 0 1.0333 -38.91 93.00)">FLT3<tspan font-size="7.8" dy="-3.10" stroke="#000" stroke-width="0.35">wt/ITD</tspan></text>
<text x="150" y="300" font-size="12" font-weight="normal" stroke="#000" stroke-width="0.45" transform="matrix(1.0692 0 0 0.9000 -119.58 151.60)">46</text>
<text x="150" y="300" font-size="12" font-weight="normal" stroke="#000" stroke-width="0.45" transform="matrix(1.0000 0 0 0.9000 -54.50 151.60)">4</text>
<text x="150" y="300" font-size="12" font-weight="normal" stroke="#000" stroke-width="0.45" transform="matrix(0.9857 0 0 0.9333 -25.16 141.90)">64</text>
<text x="150" y="300" font-size="12" font-weight="normal" stroke="#000" stroke-width="0.45" transform="matrix(1.0571 0 0 0.9333 21.03 141.90)">4</text>
<text x="150" y="300" font-size="12" font-weight="normal" stroke="#000" stroke-width="0.45" transform="matrix(1.1182 0 0 0.8556 -127.35 234.83)">11</text>
<text x="150" y="300" font-size="12" font-weight="normal" stroke="#000" stroke-width="0.45" transform="matrix(1.0923 0 0 0.8556 -72.35 234.83)">39</text>
<text x="150" y="300" font-size="12" font-weight="normal" stroke="#000" stroke-width="0.45" transform="matrix(0.9429 0 0 0.8556 -18.43 234.83)">2</text>
<text x="150" y="300" font-size="12" font-weight="normal" stroke="#000" stroke-width="0.45" transform="matrix(1.0846 0 0 0.8556 11.31 234.83)">30</text>
<text x="150" y="300" font-size="12" font-weight="normal" stroke="#000" stroke-width="0.45" transform="matrix(1.0615 0 0 0.9333 -36.53 231.80)">82</text>
<text x="150" y="300" font-size="12" font-weight="normal" stroke="#000" stroke-width="0.45" transform="matrix(0.9857 0 0 0.9333 32.54 231.80)">0</text>
<text x="150" y="300" font-size="12" font-weight="normal" stroke="#000" stroke-width="0.45" transform="matrix(0.9917 0 0 0.9222 -25.84 308.63)">17</text>
<text x="150" y="300" font-size="12" font-weight="normal" stroke="#000" stroke-width="0.45" transform="matrix(0.9857 0 0 0.9222 32.54 308.63)">0</text>
<text x="150" y="300" font-size="12.8" font-weight="normal" stroke="#000" stroke-width="0.45" transform="matrix(1.0114 0 0 0.9833 42.17 153.15)">Day11</text>
<text x="150" y="300" font-size="12.8" font-weight="normal" stroke="#000" stroke-width="0.45" transform="matrix(0.9923 0 0 0.9889 46.05 166.63)">CFU</text>
<text x="150" y="300" font-size="12.6" font-weight="normal" stroke="#000" stroke-width="0.45" transform="matrix(1.1089 0 0 0.9167 24.35 256.55)">Long-term</text>
<text x="150" y="300" font-size="12.6" font-weight="normal" stroke="#000" stroke-width="0.45" transform="matrix(1.0684 0 0 1.0000 31.54 247.80)">culture</text>
<text x="150" y="300" font-size="12.5" font-weight="bold" transform="matrix(1.1222 0 0 1.0182 -150.53 274.45) rotate(-90 150 300)">C-KIT</text>
<text x="150" y="300" font-size="12.5" font-weight="bold" transform="matrix(0.9853 0 0 0.9556 -142.08 308.13)">Mac-1</text>
<text x="150" y="300" font-size="18" font-weight="bold" transform="matrix(0.8900 0 0 0.9769 141.11 85.12)">F</text>
<text x="150" y="300" font-size="12.5" font-weight="normal" stroke="#000" stroke-width="0.45" transform="matrix(0.8273 0 0 1.0104 203.31 172.17) rotate(-90 150 300)">CFU-GM/ / 2×10<tspan font-size="7.5" dy="-6.20">4</tspan></text>
<text x="150" y="300" font-size="12.5" font-weight="normal" stroke="#000" stroke-width="0.45" transform="matrix(1.0111 0 0 1.0743 190.93 153.00) rotate(-90 150 300)">total BM cells</text>
<text x="150" y="300" font-size="11" font-weight="normal" stroke="#000" stroke-width="0.45" transform="matrix(1.1389 0 0 1.0000 175.67 89.50)">150</text>
<text x="150" y="300" font-size="11" font-weight="normal" stroke="#000" stroke-width="0.45" transform="matrix(1.1389 0 0 0.9875 175.67 122.15)">100</text>
<text x="150" y="300" font-size="11" font-weight="normal" stroke="#000" stroke-width="0.45" transform="matrix(1.0917 0 0 1.0875 186.35 121.15)">50</text>
<text x="150" y="300" font-size="11" font-weight="normal" stroke="#000" stroke-width="0.45" transform="matrix(0.9667 0 0 1.0875 210.20 150.05)">0</text>
<text x="150" y="300" font-size="12.5" font-weight="bold" transform="matrix(0.9944 0 0 0.9333 245.23 108.80)">wild-type</text>
<text x="150" y="300" font-size="12.5" font-weight="normal" stroke="#000" stroke-width="0.45" transform="matrix(1.0843 0 0 0.8500 230.37 149.15)">FLT3_wt/ITD</text>
<text x="150" y="300" font-size="11" font-weight="normal" stroke="#000" stroke-width="0.45" transform="matrix(1.0333 0 0 1.0000 211.90 182.90)">0</text>
<text x="150" y="300" font-size="11" font-weight="normal" stroke="#000" stroke-width="0.45" transform="matrix(1.0895 0 0 0.9333 230.08 202.90)">10<tspan font-size="7.5" dy="-4.12">-3</tspan></text>
<text x="150" y="300" font-size="11" font-weight="normal" stroke="#000" stroke-width="0.45" transform="matrix(1.0684 0 0 0.9333 257.94 202.90)">10<tspan font-size="7.5" dy="-4.12">-2</tspan></text>
<text x="150" y="300" font-size="11" font-weight="normal" stroke="#000" stroke-width="0.45" transform="matrix(1.0526 0 0 0.9333 289.81 202.90)">10<tspan font-size="7.5" dy="-4.12">-1</tspan></text>
<text x="150" y="300" font-size="11" font-weight="normal" stroke="#000" stroke-width="0.45" transform="matrix(0.7667 0 0 1.0000 360.10 182.90)">1</text>
<text x="150" y="300" font-size="11" font-weight="normal" stroke="#000" stroke-width="0.45" transform="matrix(0.9583 0 0 1.0000 357.05 182.90)">10</text>
<text x="150" y="300" font-size="12.5" font-weight="normal" stroke="#000" stroke-width="0.45" transform="matrix(1.0687 0 0 0.9917 235.53 202.53)">IL-3 (ng/mL)</text>
<text x="150" y="300" font-size="12.5" font-weight="normal" stroke="#000" stroke-width="0.45" transform="matrix(0.7727 0 0 1.0448 211.89 311.06) rotate(-90 150 300)">CFU-GM/ / 2×10<tspan font-size="7.5" dy="-6.20">4</tspan></text>
<text x="150" y="300" font-size="12.5" font-weight="normal" stroke="#000" stroke-width="0.45" transform="matrix(0.9444 0 0 1.1054 201.53 292.88) rotate(-90 150 300)">total BM cells</text>
<text x="150" y="300" font-size="11" font-weight="normal" stroke="#000" stroke-width="0.45" transform="matrix(1.1389 0 0 0.9625 176.17 248.55)">150</text>
<text x="150" y="300" font-size="11" font-weight="normal" stroke="#000" stroke-width="0.45" transform="matrix(1.1389 0 0 0.9625 176.17 278.65)">100</text>
<text x="150" y="300" font-size="11" font-weight="normal" stroke="#000" stroke-width="0.45" transform="matrix(1.1167 0 0 0.9625 182.30 307.15)">50</text>
<text x="150" y="300" font-size="11" font-weight="normal" stroke="#000" stroke-width="0.45" transform="matrix(1.0333 0 0 1.0625 201.30 307.25)">0</text>
<text x="150" y="300" font-size="12.5" font-weight="bold" transform="matrix(0.9944 0 0 0.9167 245.23 261.00)">wild-type</text>
<text x="150" y="300" font-size="12.5" font-weight="normal" stroke="#000" stroke-width="0.45" transform="matrix(1.0771 0 0 0.9167 231.95 276.95)">FLT3_wt/ITD</text>
<text x="150" y="300" font-size="11" font-weight="normal" stroke="#000" stroke-width="0.45" transform="matrix(1.1000 0 0 0.9625 203.00 343.65)">0</text>
<text x="150" y="300" font-size="11" font-weight="normal" stroke="#000" stroke-width="0.45" transform="matrix(1.0895 0 0 1.0222 229.68 324.93)">10<tspan font-size="7.5" dy="-4.12">-3</tspan></text>
<text x="150" y="300" font-size="11" font-weight="normal" stroke="#000" stroke-width="0.45" transform="matrix(1.1105 0 0 1.0667 254.42 311.40)">10<tspan font-size="7.5" dy="-4.12">-2</tspan></text>
<text x="150" y="300" font-size="11" font-weight="normal" stroke="#000" stroke-width="0.45" transform="matrix(1.0947 0 0 1.0667 282.69 311.40)">10<tspan font-size="7.5" dy="-4.12">-1</tspan></text>
<text x="150" y="300" font-size="11" font-weight="normal" stroke="#000" stroke-width="0.45" transform="matrix(0.9000 0 0 1.0875 340.80 306.15)">1</text>
<text x="150" y="300" font-size="11" font-weight="normal" stroke="#000" stroke-width="0.45" transform="matrix(0.9917 0 0 1.0875 353.95 306.15)">10</text>
<text x="150" y="300" font-size="12.5" font-weight="normal" stroke="#000" stroke-width="0.45" transform="matrix(1.0281 0 0 0.8917 237.28 383.73)">GM-CSF (ng/mL)</text>
<text x="150" y="300" font-size="18" font-weight="bold" transform="matrix(1.0417 0 0 1.0231 -154.69 320.68)">G</text>
<text x="150" y="300" font-size="12.5" font-weight="bold" transform="matrix(1.0139 0 0 0.9375 -95.08 366.19)">wild-type</text>
<text x="150" y="300" font-size="12.5" font-weight="bold" transform="matrix(1.0863 0 0 0.9333 0.97 367.30)">FLT3<tspan font-size="7.8" dy="-3.10" stroke="#000" stroke-width="0.35">wt/ITD</tspan></text>
</svg></body></html>
